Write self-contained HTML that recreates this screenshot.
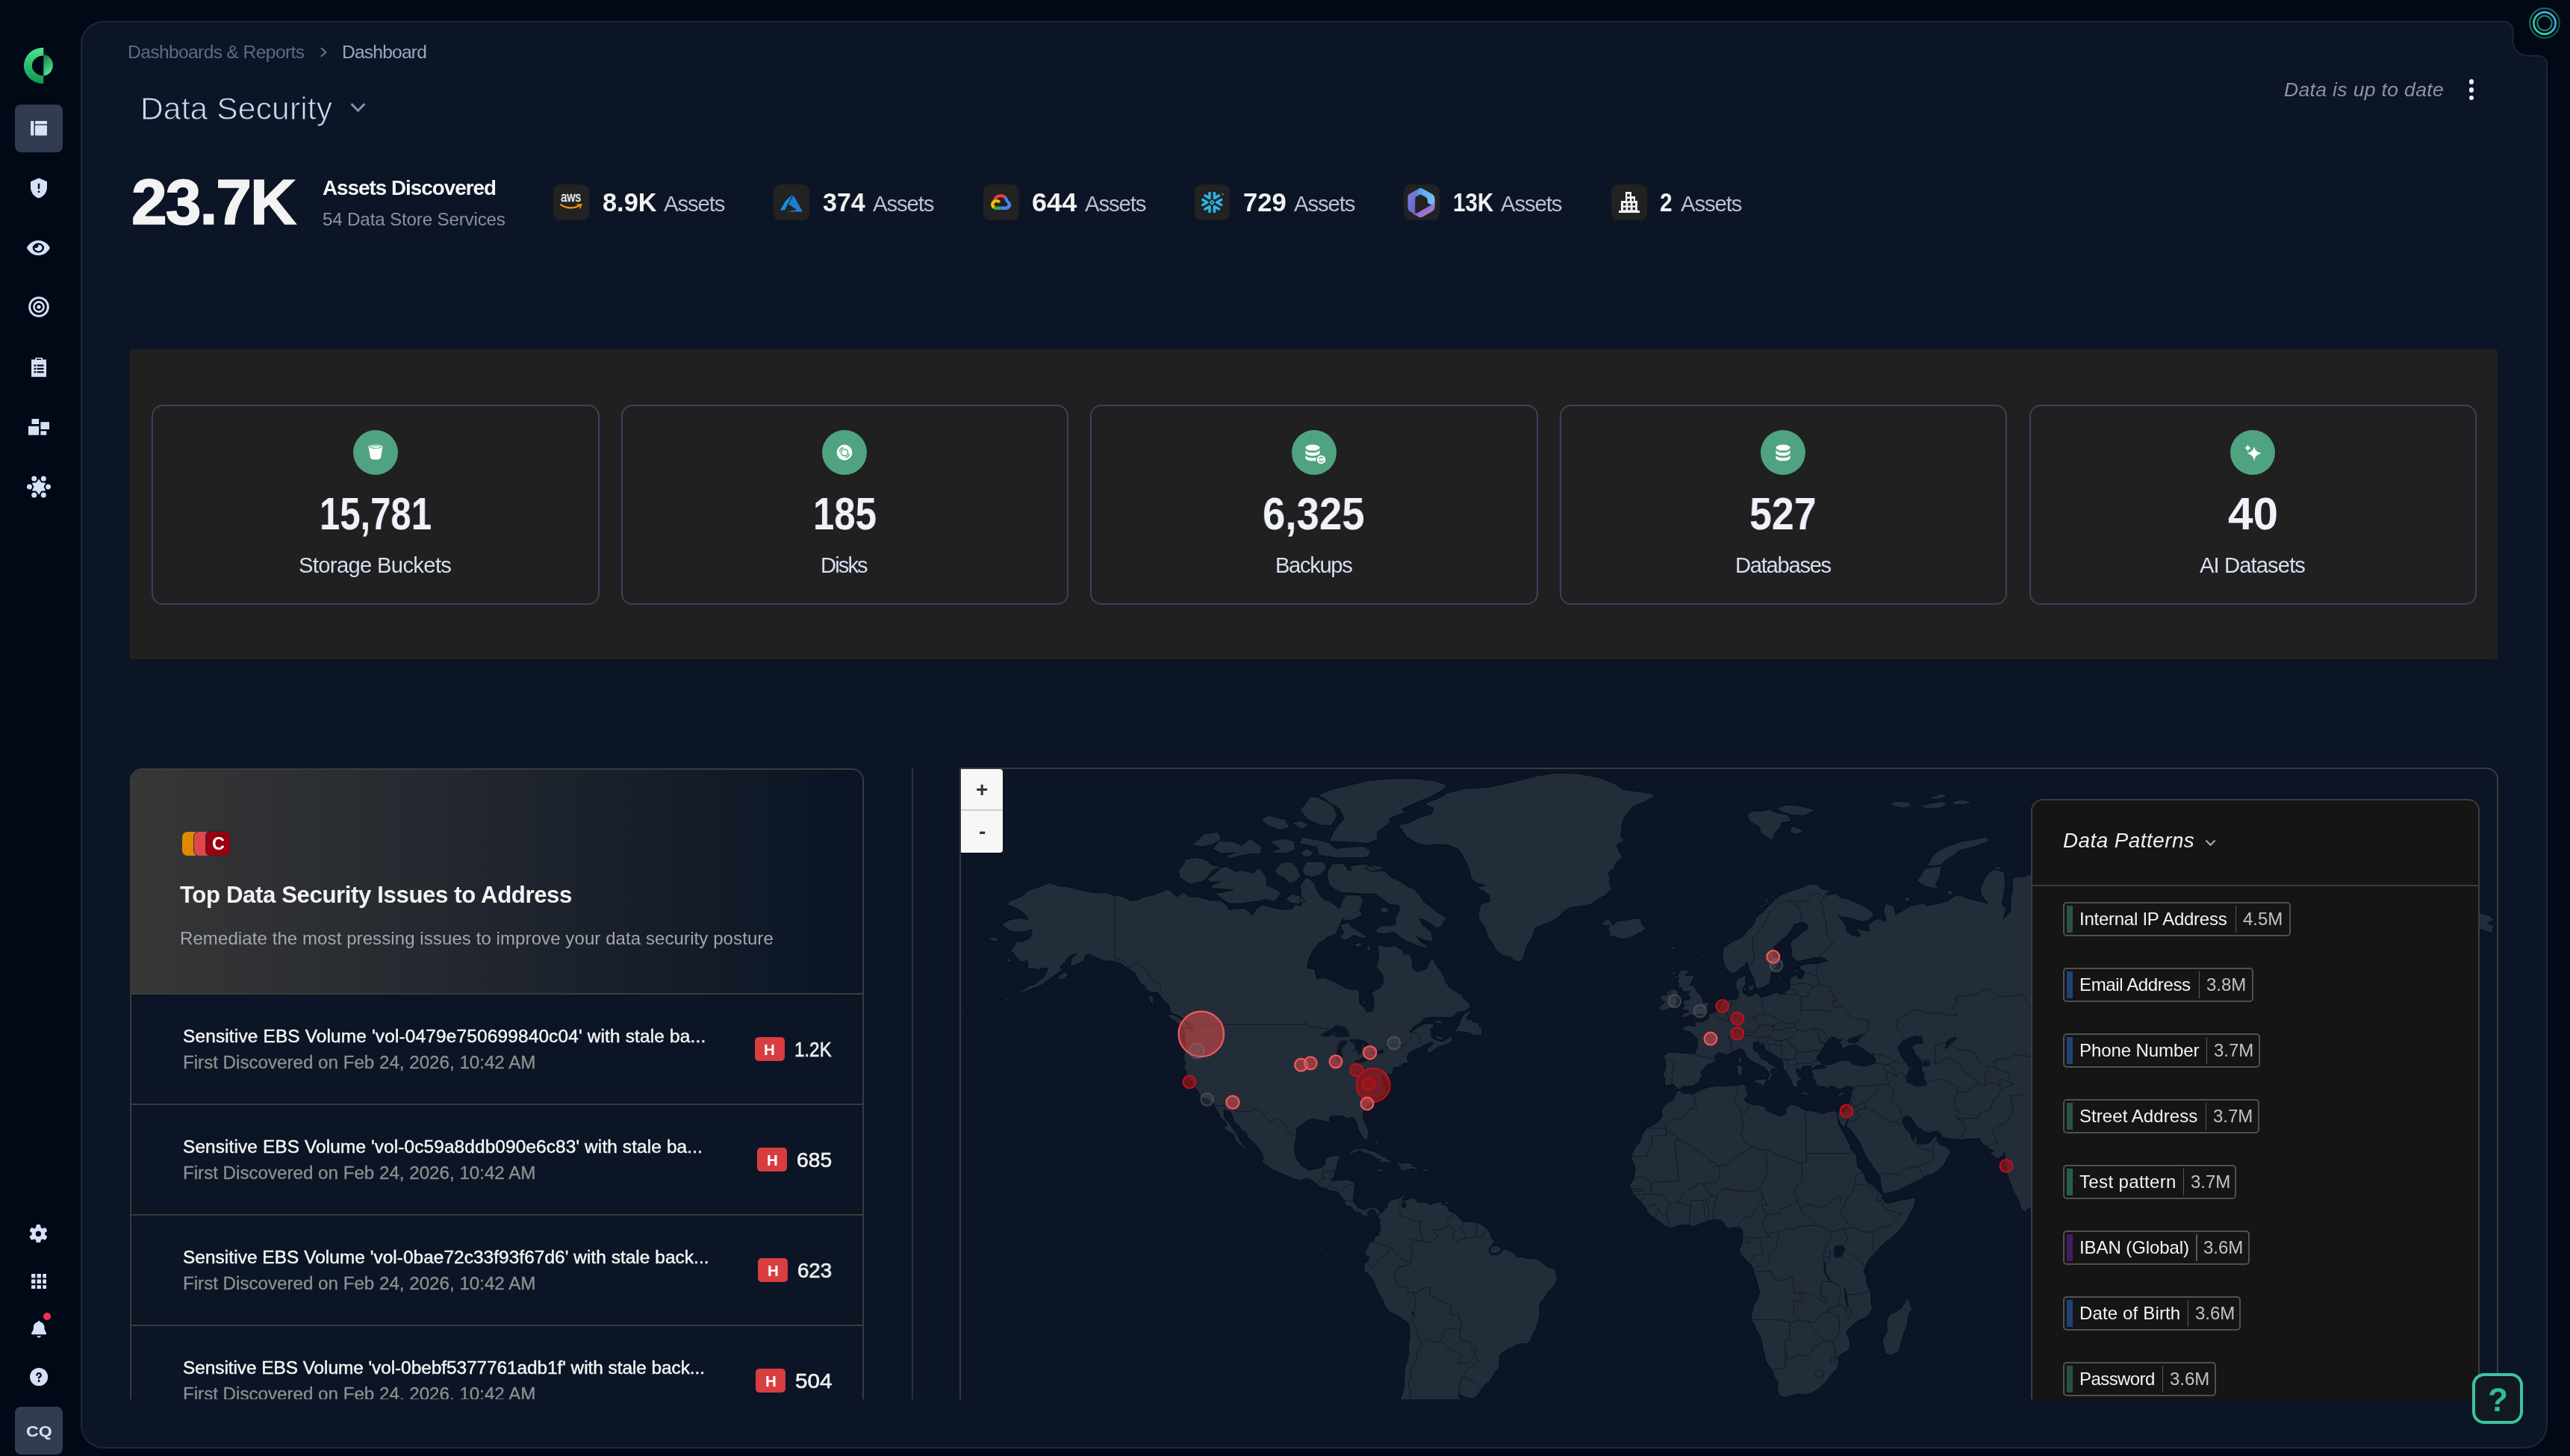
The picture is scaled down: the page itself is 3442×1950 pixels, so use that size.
<!DOCTYPE html>
<html lang="en"><head><meta charset="utf-8"><title>Data Security - Dashboard</title>
<style>
html,body{margin:0;padding:0;}
body{width:3442px;height:1950px;overflow:hidden;background:#010917;position:relative;font-family:"Liberation Sans",Arial,sans-serif;}
.b{position:absolute;box-sizing:border-box;display:block;}
.t{position:absolute;white-space:nowrap;line-height:1;will-change:transform;}
</style></head><body>
<svg class="b" style="left:0;top:0" width="3442" height="1950" viewBox="0 0 3442 1950"><path d="M139,29 H3353.5 A12,12 0 0 1 3365.5,41 V54.7 A20,20 0 0 0 3385.5,74.7 H3399 A12,12 0 0 1 3411,86.7 V1909 A30,30 0 0 1 3381,1939 H139 A30,30 0 0 1 109,1909 V59 A30,30 0 0 1 139,29 Z" fill="#0b1525" stroke="#1e2737" stroke-width="2"/></svg>
<svg class="b" style="left:30px;top:62px" width="44" height="52" viewBox="0 0 44 52">
<defs><linearGradient id="lg1" x1="0" y1="0" x2="0" y2="1"><stop offset="0" stop-color="#4ce38d"/><stop offset="1" stop-color="#0e984e"/></linearGradient>
<linearGradient id="lg2" x1="0.2" y1="0" x2="0.6" y2="1"><stop offset="0" stop-color="#0d8545"/><stop offset="1" stop-color="#58ec98"/></linearGradient></defs>
<path d="M28.3,1.7 A26.4,24.2 0 0 0 28.3,50.1 L28.3,39.3 A15.4,13.4 0 0 1 28.3,12.5 Z" fill="url(#lg1)"/>
<path d="M28.3,11.1 A13.7,14.3 0 0 1 28.3,39.6 Z" fill="url(#lg2)"/></svg>
<div class="b" style="left:20.0px;top:140.0px;width:64.0px;height:64.0px;background:#313b52;border-radius:8px;"></div>
<svg class="b" style="left:41.0px;top:161.9px;" width="22.2" height="19.8" viewBox="0 0 22.2 19.8"><g fill="#d6e0f6"><rect x="0" y="0" width="4.4" height="19.6" rx="1"/><rect x="6" y="0" width="16" height="4.2" rx="1"/><rect x="6" y="5.8" width="16" height="13.8" rx="1"/></g></svg>
<svg class="b" style="left:41.0px;top:238.3px;" width="22.0" height="27.8" viewBox="3 1 18 22"><path fill="#d6e0f6" d="M12 1 3 5v6c0 5.55 3.84 10.74 9 12 5.16-1.26 9-6.45 9-12V5M11 7h2v6h-2m0 2h2v2h-2"/></svg>
<svg class="b" style="left:36.4px;top:322.2px" width="30.8" height="20" viewBox="0 32 576 448" preserveAspectRatio="none"><path fill="#d6e0f6" d="M288 32c-80.8 0-145.5 36.8-192.6 80.6-46.8 43.5-78.1 95.4-93 131.1-3.3 7.9-3.3 16.7 0 24.6 14.9 35.7 46.2 87.7 93 131.1C142.5 443.1 207.2 480 288 480s145.5-36.8 192.6-80.6c46.8-43.5 78.1-95.4 93-131.1 3.3-7.9 3.3-16.7 0-24.6-14.9-35.7-46.2-87.7-93-131.1C433.5 68.9 368.8 32 288 32M144 256a144 144 0 1 1 288 0 144 144 0 1 1-288 0m144-64c0 35.3-28.7 64-64 64-11.5 0-22.3-3-31.7-8.4-1 10.9-.1 22.1 2.9 33.2 13.7 51.2 66.4 81.6 117.6 67.9s81.6-66.4 67.9-117.6c-12.2-45.7-55.5-74.8-101.1-70.8 5.3 9.3 8.4 20.1 8.4 31.7"/></svg>
<svg class="b" style="left:38.0px;top:397.4px;" width="28.0" height="28.0" viewBox="0 0 28 28"><circle cx="14" cy="14" r="12.3" fill="none" stroke="#d6e0f6" stroke-width="3"/><circle cx="14" cy="14" r="6.6" fill="none" stroke="#d6e0f6" stroke-width="2.6"/><circle cx="14" cy="14" r="2.6" fill="#d6e0f6"/></svg>
<svg class="b" style="left:42.0px;top:479.0px;" width="20.2" height="25.8" viewBox="0 0 20.2 25.8"><path fill="#d6e0f6" d="M0,2.6 H5.2 V0.9 Q5.2,0 6.1,0 H14.1 Q15,0 15,0.9 V2.6 H20.2 V25.8 H0 Z M7,1.4 V2.9 H13.2 V1.4 Z"/><g fill="#010917"><rect x="3.6" y="9.4" width="2.6" height="2.2"/><rect x="7.6" y="9.4" width="9" height="2.2"/><rect x="3.6" y="13.8" width="2.6" height="2.2"/><rect x="7.6" y="13.8" width="9" height="2.2"/><rect x="3.6" y="18.2" width="2.6" height="2.2"/><rect x="7.6" y="18.2" width="9" height="2.2"/></g></svg>
<svg class="b" style="left:37.8px;top:561.2px;" width="28.4" height="21.8" viewBox="37.8 561.2 28.4 21.8"><g fill="#d6e0f6"><rect x="42.3" y="561.2" width="9.6" height="7"/><rect x="54.2" y="565.4" width="11.9" height="9.8"/><rect x="37.8" y="571" width="14.1" height="11.9"/><rect x="54.2" y="577.5" width="7.9" height="5.4"/></g></svg>
<svg class="b" style="left:35.9px;top:636.3px;" width="32.0" height="32.0" viewBox="0 0 32 32"><g fill="#d6e0f6"><polygon points="16.00,5.40 12.70,10.28 6.82,10.70 9.40,16.00 6.82,21.30 12.70,21.72 16.00,26.60 19.30,21.72 25.18,21.30 22.60,16.00 25.18,10.70 19.30,10.28"/><circle cx="28.60" cy="16.00" r="3.5"/><circle cx="22.30" cy="5.09" r="3.5"/><circle cx="9.70" cy="5.09" r="3.5"/><circle cx="3.40" cy="16.00" r="3.5"/><circle cx="9.70" cy="26.91" r="3.5"/><circle cx="22.30" cy="26.91" r="3.5"/></g></svg>
<svg class="b" style="left:39.4px;top:1639.5px" width="24.8" height="24.8" viewBox="-4 -16 520 544"><path fill="#d6e0f6" d="M195.1 9.5c3-14.8 16.1-25.5 31.3-25.5h59.8c15.2 0 28.3 10.7 31.3 25.5l14.5 70c14.1 6 27.3 13.7 39.3 22.8l67.8-22.5c14.4-4.8 30.2 1.2 37.8 14.4l29.9 51.8c7.6 13.2 4.9 29.8-6.5 39.9L447 233.3c.9 7.4 1.3 15 1.3 22.7s-.5 15.3-1.3 22.7l53.4 47.5c11.4 10.1 14 26.8 6.5 39.9L477 417.9c-7.6 13.1-23.4 19.2-37.8 14.4l-67.8-22.5c-12.1 9.1-25.3 16.7-39.3 22.8l-14.4 69.9c-3.1 14.9-16.2 25.5-31.3 25.5h-59.8c-15.2 0-28.3-10.7-31.3-25.5l-14.4-69.9c-14.1-6-27.2-13.7-39.3-22.8l-68.1 22.5c-14.4 4.8-30.2-1.2-37.8-14.4L5.8 366.1c-7.6-13.2-4.9-29.8 6.5-39.9l53.4-47.5c-.9-7.4-1.3-15-1.3-22.7s.5-15.3 1.3-22.7l-53.4-47.5C.9 175.7-1.7 159 5.8 145.9l29.9-51.8c7.6-13.2 23.4-19.2 37.8-14.4l67.8 22.5c12.1-9.1 25.3-16.7 39.3-22.8zM256.3 336a80 80 0 1 0-.6-160 80 80 0 1 0 .6 160"/></svg>
<svg class="b" style="left:41.6px;top:1705.7px;" width="20.6" height="20.6" viewBox="0 0 20.6 20.6"><g fill="#d6e0f6"><rect x="0.0" y="0.0" width="5.4" height="5.4" rx="0.6"/><rect x="0.0" y="7.6" width="5.4" height="5.4" rx="0.6"/><rect x="0.0" y="15.2" width="5.4" height="5.4" rx="0.6"/><rect x="7.6" y="0.0" width="5.4" height="5.4" rx="0.6"/><rect x="7.6" y="7.6" width="5.4" height="5.4" rx="0.6"/><rect x="7.6" y="15.2" width="5.4" height="5.4" rx="0.6"/><rect x="15.2" y="0.0" width="5.4" height="5.4" rx="0.6"/><rect x="15.2" y="7.6" width="5.4" height="5.4" rx="0.6"/><rect x="15.2" y="15.2" width="5.4" height="5.4" rx="0.6"/></g></svg>
<svg class="b" style="left:41.6px;top:1769.2px" width="20.4" height="22.4" viewBox="0 0 448 512" preserveAspectRatio="none"><path fill="#d6e0f6" d="M224 0c-17.7 0-32 14.3-32 32v3.2C119 50 64 114.6 64 192v21.7c0 48.1-16.4 94.8-46.4 132.4l-9.8 12.2C2.7 364.6 0 372.4 0 380.5 0 400.1 15.9 416 35.5 416h376.9c19.6 0 35.5-15.9 35.5-35.5 0-8.1-2.7-15.9-7.8-22.2l-9.8-12.2c-29.9-37.6-46.3-84.3-46.3-132.4V192c0-77.4-55-142-128-156.8V32c0-17.7-14.3-32-32-32m-62 464c7.1 27.6 32.2 48 62 48s54.9-20.4 62-48z"/></svg>
<div class="b" style="left:57.5px;top:1757.7px;width:10.6px;height:10.6px;background:#f1304f;border-radius:6px;"></div>
<svg class="b" style="left:39.7px;top:1831.7px" width="24.2" height="24.2" viewBox="0 0 512 512"><path fill="#d6e0f6" d="M256 512a256 256 0 1 0 0-512 256 256 0 1 0 0 512m0-336c-17.7 0-32 14.3-32 32 0 13.3-10.7 24-24 24s-24-10.7-24-24c0-44.2 35.8-80 80-80s80 35.8 80 80c0 47.2-36 67.2-56 74.5v3.8c0 13.3-10.7 24-24 24s-24-10.7-24-24v-8.1c0-20.5 14.8-35.2 30.1-40.2 6.4-2.1 13.2-5.5 18.2-10.3 4.3-4.2 7.7-10 7.7-19.6 0-17.7-14.3-32-32-32zm-32 192a32 32 0 1 1 64 0 32 32 0 1 1-64 0"/></svg>
<div class="b" style="left:20.0px;top:1884.0px;width:64.0px;height:63.5px;background:#313b52;border-radius:8px;"></div>
<svg class="b" style="left:3385px;top:8px" width="46" height="46" viewBox="0 0 46 46">
<defs><linearGradient id="rg1" x1="0" y1="1" x2="1" y2="0"><stop offset="0" stop-color="#2bd491"/><stop offset="1" stop-color="#4aa3ee"/></linearGradient>
<linearGradient id="rg2" x1="0" y1="0" x2="1" y2="1"><stop offset="0" stop-color="#2a8f80"/><stop offset="1" stop-color="#1b5a4e"/></linearGradient></defs>
<circle cx="23" cy="23" r="19.8" fill="none" stroke="url(#rg2)" stroke-width="2.2" opacity="0.8"/>
<circle cx="23" cy="23" r="14.6" fill="none" stroke="url(#rg1)" stroke-width="2.7"/>
<circle cx="23" cy="23" r="9.8" fill="none" stroke="#2a9a78" stroke-width="1.7"/></svg>
<svg class="b" style="left:427.5px;top:63.2px;" width="10.5" height="14.0" viewBox="0 0 10.5 14"><polyline points="2,1.2 8.4,7 2,12.8" fill="none" stroke="#6d7890" stroke-width="2"/></svg>
<svg class="b" style="left:469.0px;top:136.5px;" width="21.0" height="14.5" viewBox="0 0 21 14.5"><polyline points="1.6,2 10.5,11.2 19.4,2" fill="none" stroke="#8592aa" stroke-width="3"/></svg>
<div class="b" style="left:3306.5px;top:106.4px;width:6.8px;height:6.8px;background:#f0f0f2;border-radius:4px;"></div>
<div class="b" style="left:3306.5px;top:117.0px;width:6.8px;height:6.8px;background:#f0f0f2;border-radius:4px;"></div>
<div class="b" style="left:3306.5px;top:127.6px;width:6.8px;height:6.8px;background:#f0f0f2;border-radius:4px;"></div>
<div class="b" style="left:741.0px;top:247.2px;width:47.6px;height:47.6px;background:#222222;border-radius:9px;"></div>
<svg class="b" style="left:749.8px;top:272.5px;" width="30.0" height="9.0" viewBox="0 0 30 9"><path d="M1,1.2 Q13,9 26,2.6" fill="none" stroke="#f79400" stroke-width="2.2" stroke-linecap="round"/><path d="M22.5,1 L28.6,0.8 L26.6,6.2" fill="none" stroke="#f79400" stroke-width="1.6"/></svg>
<div class="b" style="left:1036.2px;top:247.2px;width:47.6px;height:47.6px;background:#222222;border-radius:9px;"></div>
<svg class="b" style="left:1045.0px;top:259.5px;" width="30.0" height="24.0" viewBox="0 0 30 24"><path d="M16.6,0 L6.8,9.4 L0,21.4 H6 Z" fill="#1690df"/><path d="M17.6,1.6 L11,13.6 L22.4,21 L8,23.6 H30 Z" fill="#1c7fd0"/></svg>
<div class="b" style="left:1317.0px;top:247.2px;width:47.6px;height:47.6px;background:#222222;border-radius:9px;"></div>
<svg class="b" style="left:1325.3px;top:259.0px;" width="31.0" height="25.0" viewBox="0 0 31 25"><path d="M19.6,6.8 L22.6,3.9 C18.6,0.2 12.4,0.1 8.3,3.7 C6.5,5.3 5.3,7.3 4.8,9.5 L8.8,9 C10.6,5.3 15.9,4 19.6,6.8 Z" fill="#ea4335"/>
<path d="M25.4,9.5 C24.9,7.4 23.9,5.5 22.6,3.9 L19.6,6.8 C20.9,7.9 21.6,9.5 21.6,11.2 V11.8 C25.4,11.8 25.4,17.6 21.6,17.6 H15.5 V22 H21.6 C29.6,22 32,13.6 25.4,9.5 Z" fill="#4285f4"/>
<path d="M9.4,22 H15.5 V17.6 H9.4 C9,17.6 8.6,17.5 8.2,17.3 L5,20.5 C6.3,21.5 7.8,22 9.4,22 Z" fill="#34a853"/>
<path d="M9.4,7.9 C2.4,8 -0.6,16.6 5,20.5 L8.2,17.3 C5.4,16 6.4,11.9 9.4,11.9 C10.6,11.9 11.6,12.6 12.1,13.6 L15.3,10.4 C13.9,8.8 11.7,7.9 9.4,7.9 Z" fill="#fbbc05"/></svg>
<div class="b" style="left:1599.9px;top:247.2px;width:47.6px;height:47.6px;background:#222222;border-radius:9px;"></div>
<svg class="b" style="left:1608.7px;top:256.0px;" width="30.0" height="30.0" viewBox="0 0 24 24"><path fill="#29b5e8" d="M24 3.459c0 .646-.418 1.18-1.141 1.18s-1.142-.534-1.142-1.18c0-.647.419-1.18 1.142-1.18S24 2.812 24 3.459m-.228 0c0-.533-.38-.951-.913-.951s-.913.38-.913.95c0 .533.38.952.913.952.57 0 .913-.419.913-.951m-1.37-.533h.495c.266 0 .456.152.456.38 0 .153-.076.229-.19.305l.19.266v.038h-.266l-.19-.266h-.229v.266h-.266zm.495.228h-.229v.267h.229c.114 0 .152-.038.152-.114.038-.077-.038-.153-.152-.153M7.602 12.4a2 2 0 0 0 .076-.456c0-.114-.038-.228-.038-.342-.114-.343-.304-.647-.646-.838l-4.87-2.777c-.685-.38-1.56-.152-1.94.533-.381.685-.153 1.56.532 1.94l2.701 1.56-2.701 1.56c-.685.38-.913 1.256-.533 1.94.38.685 1.256.914 1.94.533l4.832-2.777c.343-.267.571-.533.647-.876m1.332 2.626c-.266-.038-.57.038-.837.19l-4.832 2.777c-.685.38-.913 1.256-.532 1.94.38.686 1.255.914 1.94.533l2.701-1.56v3.12c0 .8.647 1.408 1.446 1.408s1.407-.647 1.407-1.408v-5.592c0-.761-.57-1.37-1.293-1.408m4.946-6.088c.266.038.57-.038.837-.19l4.832-2.777c.685-.38.913-1.256.532-1.94-.38-.686-1.255-.914-1.94-.533l-2.701 1.56V1.975c0-.799-.647-1.408-1.446-1.408s-1.446.609-1.446 1.408V7.53c0 .76.609 1.37 1.332 1.407zM3.265 5.97l4.832 2.777c.266.152.533.19.837.19.723-.038 1.331-.684 1.331-1.407V1.975c0-.799-.646-1.408-1.407-1.408-.799 0-1.446.647-1.446 1.408v3.12l-2.701-1.56c-.685-.38-1.56-.152-1.94.533-.419.646-.19 1.521.494 1.902m9.093 6.011a.4.4 0 0 0-.114-.266l-.57-.571a.35.35 0 0 0-.267-.114.4.4 0 0 0-.266.114l-.571.57a.4.4 0 0 0-.114.267c0 .076.038.19.114.267l.57.57a.35.35 0 0 0 .267.114.4.4 0 0 0 .266-.114l.571-.57a.4.4 0 0 0 .114-.267m1.598.533L11.94 14.53c-.039.038-.153.114-.229.114h-.608a.4.4 0 0 1-.267-.114L8.82 12.514a.4.4 0 0 1-.076-.229v-.608c0-.076.038-.19.114-.267l2.016-2.016a.4.4 0 0 1 .267-.114h.608a.4.4 0 0 1 .267.114l2.016 2.016a.35.35 0 0 1 .114.267v.608c-.076.077-.114.19-.19.229m5.593 5.44-4.832-2.777c-.266-.152-.57-.19-.837-.152-.723.038-1.332.684-1.332 1.408v5.554c0 .8.647 1.408 1.408 1.408.799 0 1.446-.647 1.446-1.408v-3.12l2.7 1.56c.686.38 1.561.152 1.941-.533.419-.646.19-1.521-.494-1.94m2.549-7.533-2.701 1.56 2.7 1.56c.686.38.914 1.256.533 1.94-.38.685-1.255.913-1.94.533l-4.832-2.778a1.64 1.64 0 0 1-.647-.798c-.037-.153-.076-.305-.076-.457 0-.114.039-.228.039-.342.114-.343.342-.647.646-.837l4.832-2.778c.685-.38 1.56-.152 1.94.533.457.609.19 1.484-.494 1.864"/></svg>
<div class="b" style="left:1880.0px;top:247.2px;width:47.6px;height:47.6px;background:#222222;border-radius:9px;"></div>
<svg class="b" style="left:1885.3px;top:250.8px;" width="37.0" height="40.6" viewBox="0 0 31 34"><defs><linearGradient id="m1" x1="0" y1="0" x2="1" y2="1"><stop offset="0" stop-color="#8a7bd8"/><stop offset="1" stop-color="#4b63c7"/></linearGradient>
<linearGradient id="m2" x1="0" y1="0" x2="1" y2="0"><stop offset="0" stop-color="#4a9be8"/><stop offset="1" stop-color="#7cc3f2"/></linearGradient>
<linearGradient id="m3" x1="0" y1="0" x2="1" y2="1"><stop offset="0" stop-color="#6b5fc8"/><stop offset="1" stop-color="#b37fd6"/></linearGradient></defs>
<path d="M13,1.2 L3,7 C1.2,8 0.4,9.6 0.4,11.6 V22.4 C0.4,24.4 1.4,26 3,27 L8.6,30.2 V13.6 C8.6,11.8 9.4,10.6 10.8,9.8 L19,5 L16.4,1.6 C15.4,0.8 14,0.6 13,1.2 Z" fill="url(#m1)"/>
<path d="M12.6,1.4 C14,0.6 15.6,0.6 17,1.4 L27.6,7.4 C29.6,8.6 30.6,10.4 30.6,12.4 V21.8 L22.6,17.4 V14.8 C22.6,13.2 21.8,12 20.6,11.2 L15.6,8.4 C13.8,7.4 11.8,7.4 10.2,8.6 Z" fill="url(#m2)"/>
<path d="M30.6,12.6 V22 C30.6,24.2 29.4,26 27.6,27 L17,33 C15.6,33.8 13.8,33.8 12.4,33 L5,28.6 C8,29.8 10.4,28.8 12,28 L27.4,19.2 C29.6,18 30.6,15.4 30.6,12.6 Z" fill="url(#m3)"/></svg>
<div class="b" style="left:2158.0px;top:247.2px;width:47.6px;height:47.6px;background:#222222;border-radius:9px;"></div>
<svg class="b" style="left:2165.8px;top:255.0px;" width="32.0" height="32.0" viewBox="0 0 32 32"><path fill="#f1f1f1" d="M11,2 H19 V8 H24 V14 H27 V27 H30 V30 H2 V27 H5 V14 H11 Z"/>
<g fill="#222"><rect x="13.2" y="5" width="3.6" height="3.4"/><rect x="13.2" y="11" width="3.6" height="3.4"/><rect x="19.6" y="11" width="2.4" height="3.4"/><rect x="8" y="17" width="3.4" height="3.4"/><rect x="14.3" y="17" width="3.4" height="3.4"/><rect x="20.6" y="17" width="3.4" height="3.4"/><rect x="8" y="22.8" width="3.4" height="3.4"/><rect x="14.3" y="22.8" width="3.4" height="3.4"/><rect x="20.6" y="22.8" width="3.4" height="3.4"/></g></svg>
<div class="b" style="left:174.0px;top:468.0px;width:3171.0px;height:414.5px;background:#202020;border-radius:3px;"></div>
<div class="b" style="left:203.0px;top:542.0px;width:599.5px;height:267.5px;border-radius:15px;border:2px solid #38435c;"></div>
<div class="b" style="left:472.8px;top:576.0px;width:60.0px;height:60.0px;background:#4fa381;border-radius:30px;"></div>
<svg class="b" style="left:492.8px;top:595.0px;" width="20.0" height="21.0" viewBox="0 0 20 21"><path fill="#ffffff" d="M0.6,3.4 C0.6,1.6 4.8,0.6 10,0.6 C15.2,0.6 19.4,1.6 19.4,3.4 L17,18 C16.6,19.8 13.6,20.6 10,20.6 C6.4,20.6 3.4,19.8 3,18 Z"/><ellipse cx="10" cy="3.5" rx="7.6" ry="1.7" fill="none" stroke="#4fa381" stroke-width="1.1"/></svg>
<div class="b" style="left:831.5px;top:542.0px;width:599.5px;height:267.5px;border-radius:15px;border:2px solid #38435c;"></div>
<div class="b" style="left:1101.2px;top:576.0px;width:60.0px;height:60.0px;background:#4fa381;border-radius:30px;"></div>
<svg class="b" style="left:1120.2px;top:595.0px;" width="22.0" height="22.0" viewBox="0 0 22 22"><circle cx="11" cy="11" r="10.4" fill="#ffffff"/><circle cx="11" cy="11" r="4.6" fill="none" stroke="#4fa381" stroke-width="1.5"/><path d="M4.2,9.4 A7,7 0 0 1 9.4,4.2" fill="none" stroke="#4fa381" stroke-width="1.4"/><path d="M17.8,12.6 A7,7 0 0 1 12.6,17.8" fill="none" stroke="#4fa381" stroke-width="1.4"/></svg>
<div class="b" style="left:1460.0px;top:542.0px;width:599.5px;height:267.5px;border-radius:15px;border:2px solid #38435c;"></div>
<div class="b" style="left:1729.8px;top:576.0px;width:60.0px;height:60.0px;background:#4fa381;border-radius:30px;"></div>
<svg class="b" style="left:1746.8px;top:594.5px;" width="22.0" height="23.0" viewBox="0 0 22 23"><g fill="#ffffff"><ellipse cx="11" cy="4.6" rx="9.6" ry="4"/><path d="M1.4,7.6 C3,12.6 19,12.6 20.6,7.6 V11.8 C19,16.8 3,16.8 1.4,11.8 Z"/><path d="M1.4,14.4 C3,19.4 19,19.4 20.6,14.4 V18.4 C19,23.6 3,23.6 1.4,18.4 Z"/></g></svg>
<svg class="b" style="left:1761.8px;top:608.0px;" width="15.0" height="15.0" viewBox="0 0 15 15"><circle cx="7.5" cy="7.5" r="7.2" fill="#4fa381"/><circle cx="7.5" cy="7.5" r="5.8" fill="#ffffff"/><path d="M4.6,6.6 A3.2,3.2 0 0 1 10.2,5.8 M10.4,8.4 A3.2,3.2 0 0 1 4.8,9.2" fill="none" stroke="#4fa381" stroke-width="1.3"/></svg>
<div class="b" style="left:2088.5px;top:542.0px;width:599.5px;height:267.5px;border-radius:15px;border:2px solid #38435c;"></div>
<div class="b" style="left:2358.2px;top:576.0px;width:60.0px;height:60.0px;background:#4fa381;border-radius:30px;"></div>
<svg class="b" style="left:2377.2px;top:594.5px;" width="22.0" height="23.0" viewBox="0 0 22 23"><g fill="#ffffff"><ellipse cx="11" cy="4.6" rx="9.6" ry="4"/><path d="M1.4,7.6 C3,12.6 19,12.6 20.6,7.6 V11.8 C19,16.8 3,16.8 1.4,11.8 Z"/><path d="M1.4,14.4 C3,19.4 19,19.4 20.6,14.4 V18.4 C19,23.6 3,23.6 1.4,18.4 Z"/></g></svg>
<div class="b" style="left:2717.5px;top:542.0px;width:599.5px;height:267.5px;border-radius:15px;border:2px solid #38435c;"></div>
<div class="b" style="left:2987.2px;top:576.0px;width:60.0px;height:60.0px;background:#4fa381;border-radius:30px;"></div>
<svg class="b" style="left:3003.2px;top:592.0px;" width="28.0" height="28.0" viewBox="0 0 28 28"><g fill="#ffffff"><path d="M16,6 Q17,13 25.5,15 Q17,17 16,25.5 Q15,17 6.5,15 Q15,13 16,6 Z"/><path d="M7.5,3 Q8,7 12,8 Q8,9 7.5,13 Q7,9 3,8 Q7,7 7.5,3 Z"/></g></svg>
<div class="b" style="left:174px;top:1028.5px;width:983px;height:846px;border:2px solid #3b3b3b;border-bottom:none;border-radius:16px 16px 0 0;overflow:hidden;"><div class="b" style="left:0;top:0;width:979px;height:301px;background:linear-gradient(90deg,#373737 0%,#0b1525 97%);"></div></div>
<div class="b" style="left:176.0px;top:1330.0px;width:979.0px;height:2.0px;background:#3b3b3b;"></div>
<div class="b" style="left:176.0px;top:1478.0px;width:979.0px;height:2.0px;background:#3b3b3b;"></div>
<div class="b" style="left:176.0px;top:1626.0px;width:979.0px;height:2.0px;background:#3b3b3b;"></div>
<div class="b" style="left:176.0px;top:1774.0px;width:979.0px;height:2.0px;background:#3b3b3b;"></div>
<div class="b" style="left:1220.5px;top:1028.0px;width:2.0px;height:846.0px;background:#2b3038;"></div>
<div class="b" style="left:244.0px;top:1114.0px;width:31.5px;height:31.5px;background:#e08a00;border-radius:7px;"></div>
<div class="b" style="left:258.6px;top:1112.6px;width:34.0px;height:34.4px;background:#34363b;border-radius:8px;"></div>
<div class="b" style="left:260.0px;top:1114.0px;width:31.5px;height:31.5px;background:#e0474a;border-radius:7px;"></div>
<div class="b" style="left:274.6px;top:1112.4px;width:35.0px;height:35.0px;background:#2b2d33;border-radius:8px;"></div>
<div class="b" style="left:276.4px;top:1114.0px;width:31.5px;height:31.5px;background:#98000f;border-radius:7px;"></div>
<div class="b" style="left:1011.0px;top:1389.0px;width:39.5px;height:31.6px;background:#d83d40;border-radius:5px;"></div>
<div class="b" style="left:1014.3px;top:1537.0px;width:39.5px;height:31.6px;background:#d83d40;border-radius:5px;"></div>
<div class="b" style="left:1015.2px;top:1685.0px;width:39.5px;height:31.6px;background:#d83d40;border-radius:5px;"></div>
<div class="b" style="left:1012.2px;top:1833.0px;width:39.5px;height:31.6px;background:#d83d40;border-radius:5px;"></div>
<div class="b" style="left:170.0px;top:1874.0px;width:3180.0px;height:62.0px;background:#0b1525;z-index:5;"></div>
<div class="b" style="left:1285px;top:1027.5px;width:2061px;height:847px;border:2px solid #3b3b3b;border-bottom:none;border-radius:0 16px 0 0;"></div>
<svg class="b" style="left:1287px;top:1029.5px" width="2058" height="844.5" viewBox="0 0 2058 844.5">
<path fill="#232d39" stroke="#07101e" stroke-width="1.1" stroke-linejoin="round" d="M54.6,208.0 63.5,202.4 77.5,199.2 89.8,201.5 85.8,195.0 78.6,189.3 69.7,184.5 61.9,182.1 65.2,176.8 80.3,170.9 89.2,162.9 105.4,157.4 118.8,152.2 130.5,156.3 144.4,157.9 155.6,160.9 169.5,163.9 183.5,165.9 194.7,164.9 205.8,169.4 217.0,170.4 228.1,176.3 236.5,175.8 244.9,170.9 256.0,168.9 267.2,164.9 275.6,160.9 281.1,162.9 289.5,170.9 297.3,164.4 306.3,170.9 317.4,170.9 334.2,175.8 348.1,176.3 356.5,182.6 359.3,188.3 378.8,185.9 387.2,191.2 390.0,195.9 395.5,187.4 403.9,181.6 417.9,185.5 429.0,187.9 443.0,187.4 448.0,180.7 455.8,183.1 454.1,175.8 455.8,165.9 454.1,155.8 461.4,146.0 465.3,145.5 473.7,152.8 476.4,160.9 480.9,168.9 487.6,175.8 494.3,176.8 501.6,182.6 507.1,186.4 509.9,177.7 515.5,167.9 533.9,168.9 538.9,173.8 537.3,181.6 533.9,189.3 538.4,195.0 526.7,201.5 512.7,203.4 511.6,199.6 507.1,210.7 501.6,221.5 490.4,225.1 486.5,229.5 479.2,233.0 470.9,244.2 465.3,256.9 464.2,266.8 473.7,267.6 476.4,281.3 485.9,278.9 501.6,285.3 518.3,294.3 533.4,295.9 533.9,312.4 540.6,319.9 543.4,325.1 551.8,323.6 552.9,316.1 552.3,304.8 548.4,299.8 561.3,292.4 565.7,285.3 565.2,277.3 560.1,269.2 555.7,265.1 558.5,256.9 559.6,248.5 557.4,237.3 560.1,235.2 571.3,238.2 580.8,236.5 590.8,241.6 593.6,247.6 602.0,248.5 604.8,256.9 604.2,265.1 610.9,271.7 624.3,266.8 627.1,257.7 632.7,253.5 635.5,261.0 642.2,269.2 646.6,277.3 649.4,285.3 655.0,293.2 663.4,297.8 671.2,302.5 673.4,307.0 681.2,313.9 681.8,319.9 675.7,324.0 666.2,325.4 657.8,332.4 646.6,332.8 632.7,332.4 621.5,333.2 615.9,339.7 607.6,344.7 600.9,352.6 604.2,351.9 610.4,346.2 621.5,340.8 633.2,341.1 633.8,344.7 628.2,349.0 631.0,351.1 629.9,357.5 633.8,361.4 641.1,364.5 647.2,363.8 650.5,361.7 655.0,356.1 658.9,363.1 652.2,368.0 638.3,372.8 629.9,378.9 626.0,380.6 623.2,375.5 629.9,369.3 632.7,368.0 631.0,365.2 624.3,368.7 618.7,370.0 618.7,372.1 610.4,374.8 602.0,378.9 598.1,383.7 597.5,387.1 598.7,391.1 602.0,390.1 602.3,392.4 598.1,393.8 594.2,393.8 590.8,395.1 591.4,396.8 585.3,399.1 579.7,400.1 579.7,401.7 578.6,406.3 574.7,410.6 571.3,407.6 573.5,412.9 572.4,416.7 569.1,422.2 567.4,414.8 565.7,408.9 565.7,416.7 566.8,423.2 568.5,423.8 570.2,430.2 571.3,434.3 565.7,438.1 557.9,442.9 550.7,447.2 546.8,450.3 540.6,455.3 538.4,462.7 538.9,468.2 542.9,476.4 545.9,485.7 545.6,492.3 544.0,495.9 540.1,496.4 536.2,491.1 533.9,486.3 531.1,481.5 530.6,475.5 526.1,468.2 523.3,466.4 516.6,468.8 509.9,464.5 501.6,465.1 496.0,464.8 493.2,467.0 494.9,472.5 489.3,472.5 483.1,470.6 477.6,469.7 469.2,468.8 464.2,470.9 456.9,476.1 450.2,481.5 449.1,491.1 447.4,503.0 446.9,513.0 450.2,522.4 456.4,531.1 462.5,534.8 465.8,537.1 474.8,535.1 480.4,534.5 486.5,530.5 487.6,527.3 488.2,521.2 490.4,519.7 498.8,517.4 506.6,517.2 508.3,520.0 504.9,525.3 504.3,529.9 502.7,536.3 501.0,538.0 500.4,540.9 499.9,546.6 496.5,550.0 500.4,551.2 504.3,550.6 512.7,550.0 518.9,550.0 526.7,553.5 528.6,555.2 527.2,560.9 526.7,566.6 525.6,572.2 525.6,577.9 526.7,581.3 529.5,583.5 533.9,588.0 539.5,590.3 546.2,587.5 551.8,586.1 557.4,588.0 561.0,591.0 557.9,599.3 555.7,595.3 555.1,592.5 551.8,589.7 549.0,589.4 547.3,592.0 544.0,593.4 546.2,597.9 541.2,599.3 536.7,597.0 533.9,593.6 530.0,594.5 527.8,592.5 525.6,592.2 525.6,589.1 520.5,585.8 517.7,585.9 513.8,582.4 513.8,578.4 509.9,573.4 504.9,567.1 502.1,565.7 496.5,565.1 491.5,563.7 487.6,561.4 482.6,560.9 478.1,558.0 470.9,551.8 465.3,548.3 461.4,548.6 454.1,551.5 445.8,548.9 435.2,544.6 425.7,540.3 422.3,538.3 415.1,536.3 410.6,531.9 405.0,527.6 402.8,524.1 405.0,522.4 403.9,517.7 398.9,507.7 391.1,500.0 384.4,493.8 381.6,486.9 375.5,483.3 373.8,479.7 366.5,473.1 363.2,465.8 361.5,459.6 352.6,456.2 352.6,461.5 353.1,467.0 358.7,473.1 363.2,479.1 366.0,483.9 369.9,488.1 371.5,492.3 374.9,498.3 377.1,501.8 380.5,505.4 381.9,507.7 379.4,509.5 377.7,506.5 371.0,501.2 367.1,498.3 366.5,491.1 360.9,486.9 355.4,484.5 350.6,480.0 355.4,477.9 355.9,475.5 352.6,471.2 347.0,467.0 345.3,462.1 342.0,456.5 339.2,451.6 338.1,447.9 331.9,443.8 331.4,442.2 327.5,441.3 320.2,439.4 319.4,435.0 312.4,425.8 311.8,423.5 309.0,420.0 309.0,418.0 306.3,416.7 302.4,410.9 301.8,405.0 298.4,400.7 300.1,393.8 297.9,385.0 300.1,376.9 300.7,361.7 300.1,356.1 296.8,346.2 303.5,347.9 307.9,348.3 309.6,353.3 310.2,349.0 308.5,342.6 305.7,340.4 301.2,337.5 295.7,333.9 289.5,329.5 282.3,327.3 279.5,322.8 278.9,317.6 274.5,312.4 268.3,306.3 265.5,301.7 261.6,298.6 256.0,299.4 249.3,296.3 244.9,289.2 241.0,287.7 237.1,281.3 233.7,274.9 230.4,271.7 223.1,266.8 213.1,260.2 203.6,257.3 189.6,256.9 185.7,254.4 177.9,251.0 172.3,248.5 166.8,249.3 165.1,256.9 158.4,259.4 152.8,262.7 145.0,263.5 147.2,259.4 148.3,252.7 155.6,246.8 150.0,248.5 144.4,252.7 138.9,259.4 133.3,265.1 136.1,268.4 131.6,272.5 124.9,277.3 118.2,282.1 108.7,289.2 99.8,292.4 91.4,295.5 83.1,299.0 73.0,300.5 83.1,295.9 91.4,290.0 97.0,289.2 105.4,282.9 112.1,276.9 114.3,271.7 116.5,267.2 108.2,266.4 105.4,269.2 98.1,267.6 89.2,268.0 89.8,261.0 88.6,256.9 80.3,258.5 74.7,253.5 70.2,246.8 65.8,243.3 71.9,235.6 73.6,231.2 83.1,230.4 91.4,226.8 94.2,222.4 95.3,215.2 85.8,217.9 74.7,218.4 69.7,217.9 63.5,216.1Z M747.6,258.5 738.7,255.2 735.9,251.0 724.8,249.7 719.2,245.1 715.3,239.9 711.9,233.0 706.3,226.0 704.1,220.6 701.9,213.4 696.9,206.1 693.5,199.6 693.0,195.0 694.1,187.4 696.9,180.7 708.0,177.7 708.0,169.9 699.6,162.9 688.5,158.9 702.4,155.8 688.5,151.7 682.9,145.5 681.2,137.1 677.3,126.4 671.8,116.5 666.2,107.6 652.2,101.9 635.5,100.8 621.5,102.5 608.7,98.5 596.4,90.3 588.0,78.4 585.3,74.8 602.0,71.1 613.2,65.0 629.9,60.0 632.7,52.4 619.9,46.6 638.3,39.4 652.2,31.5 674.5,26.1 702.4,24.7 724.8,20.6 747.1,15.1 769.4,9.5 797.3,5.3 825.2,6.0 853.1,10.9 875.4,19.3 886.6,27.4 903.3,29.5 925.6,32.8 928.4,36.8 917.3,43.4 900.5,49.8 892.2,60.0 886.6,68.7 884.9,78.4 883.8,90.3 889.4,95.0 878.2,101.9 882.1,111.0 886.6,118.7 878.2,124.2 875.4,131.8 867.0,139.2 869.8,145.5 868.2,151.7 871.5,160.9 867.0,164.9 861.5,169.9 850.3,175.8 844.7,180.7 830.8,183.5 816.8,185.5 808.5,190.2 800.1,198.7 788.9,205.2 777.8,208.9 769.4,213.4 766.6,220.6 764.9,226.8 759.9,233.0 756.6,239.9 754.9,248.5 752.7,254.4Z M855.9,208.9 864.3,200.6 867.6,200.1 872.6,208.9 879.9,203.4 889.4,202.4 901.6,199.6 911.1,201.0 911.7,207.0 917.0,213.0 911.7,218.8 906.1,220.6 900.5,224.2 892.2,226.8 886.6,227.7 878.2,226.0 874.3,223.7 865.9,224.2 869.8,219.7 867.0,215.2 858.7,214.8 868.2,213.0 868.7,209.8Z M624.9,240.8 613.2,237.3 602.6,233.0 593.6,229.5 586.4,223.3 579.7,218.8 565.7,220.6 557.4,219.7 554.6,216.1 562.9,209.8 576.9,209.8 582.5,207.0 581.4,199.6 585.3,192.1 588.0,187.4 585.3,182.6 574.1,181.6 565.7,175.8 554.6,166.9 546.2,167.9 535.0,166.9 521.1,165.9 509.9,165.9 501.6,161.9 493.2,155.8 490.4,145.5 491.5,135.0 497.1,126.9 512.7,125.9 518.3,135.0 522.8,136.1 521.1,129.6 537.8,127.5 543.4,127.5 557.4,135.0 568.5,137.1 576.9,145.5 588.0,149.7 596.4,155.8 607.6,160.9 615.9,170.9 620.4,177.7 632.7,186.4 638.3,192.1 650.5,198.7 646.6,204.3 645.0,208.9 638.3,213.4 629.9,208.0 621.5,202.4 614.3,200.6 618.7,208.9 629.9,217.9 632.1,231.2 621.5,229.5 610.4,224.6 615.9,231.2 624.3,236.5Z M339.7,166.4 348.1,172.8 358.7,180.2 378.8,179.7 387.2,178.2 401.1,176.8 406.7,174.8 420.6,177.3 426.2,169.9 429.6,165.9 420.6,159.9 409.5,155.8 409.5,145.5 403.9,137.1 398.3,131.8 391.1,139.2 384.4,137.1 376.0,135.5 367.6,137.1 356.5,130.7 349.2,131.3 336.9,136.1 328.0,147.6 334.7,151.7 348.1,150.7 334.2,155.8 336.9,159.9 364.8,161.9 353.7,163.9Z M307.9,154.8 303.5,152.8 293.4,146.0 290.6,136.1 297.9,127.5 300.7,120.9 314.6,118.2 328.6,122.0 336.9,128.6 348.7,130.7 344.2,136.1 336.4,142.4 327.5,148.6 321.3,151.2 314.6,152.2Z M336.9,107.0 345.3,96.1 364.8,97.3 376.0,101.9 387.2,93.2 402.8,103.0 401.1,113.2 387.2,113.8 374.3,116.0 359.3,119.8 353.7,116.0 367.6,112.1 348.1,113.2Z M309.0,101.9 325.8,86.8 345.3,84.4 348.1,95.0 336.9,101.3 323.0,104.2Z M412.3,112.1 426.2,106.4 412.3,96.1 431.8,93.2 445.8,96.1 448.5,107.6 434.6,113.2Z M454.1,113.2 462.5,105.9 472.5,111.0 468.1,117.1 459.7,117.6Z M546.2,117.6 549.0,108.7 537.8,103.0 523.9,104.2 501.6,106.4 493.2,98.5 479.2,95.0 456.9,90.9 452.5,99.6 476.4,104.2 479.2,115.4 501.6,118.7 518.3,118.7 535.0,118.7Z M493.2,96.7 518.3,97.9 546.2,99.6 558.5,93.8 557.4,84.4 574.1,72.4 574.1,66.2 596.4,57.5 590.8,53.7 607.6,46.0 629.9,36.8 646.6,27.4 650.5,21.3 635.5,15.8 604.8,12.3 574.1,13.0 546.2,15.1 518.3,22.0 496.0,27.4 482.0,32.8 479.2,38.1 496.0,47.3 507.1,53.7 512.7,66.2 504.3,76.0 498.8,84.4Z M454.1,54.9 468.1,36.8 484.8,38.1 498.8,49.8 504.3,62.5 496.0,76.0 479.2,74.8 462.5,66.2Z M401.1,67.5 412.3,61.9 434.6,67.5 440.2,78.4 426.2,82.0 409.5,74.8Z M443.0,72.4 454.1,68.7 467.0,74.8 456.9,80.8Z M420.6,135.0 429.0,125.3 443.0,124.2 451.3,132.9 455.2,143.4 448.5,150.7 440.2,152.8 431.8,145.5 423.4,142.4Z M456.9,135.0 462.5,123.7 484.8,124.2 490.4,131.8 482.0,141.3 470.9,145.0 459.7,142.4Z M434.6,173.8 443.0,166.9 456.9,170.9 460.8,177.7 451.3,180.7 440.2,178.7Z M507.1,208.9 518.3,205.2 523.9,211.6 537.8,219.7 545.1,225.1 537.8,226.8 526.7,222.4 515.5,229.5 506.0,226.0 512.7,218.8Z M526.7,233.9 535.0,232.1 537.8,236.5 529.5,239.1Z M543.4,237.3 548.4,237.3 549.0,243.3 544.5,243.3Z M540.6,132.9 549.0,127.5 565.7,131.8 560.1,136.6 549.0,136.6Z M560.1,190.2 565.7,183.5 574.1,187.4 569.6,193.1Z M535.0,312.4 540.6,310.8 545.1,313.1 538.9,314.6Z M661.7,351.9 663.4,347.6 667.3,341.9 669.5,334.6 674.5,327.3 680.7,322.8 682.9,325.8 676.8,333.2 680.1,336.1 684.0,334.6 686.8,339.0 693.5,339.7 694.1,344.7 697.4,347.6 698.5,352.6 696.3,358.6 692.4,355.4 690.2,356.8 685.7,356.8 682.4,354.0 677.3,352.6 669.0,351.9Z M632.7,335.7 641.1,336.1 648.3,340.8 643.8,341.1 636.6,339.7Z M633.2,358.2 636.6,356.4 646.6,360.0 643.8,363.1 638.3,361.7Z M276.1,328.8 283.9,328.4 293.4,333.2 300.7,339.7 304.0,346.2 297.9,345.1 291.2,341.9 286.2,337.5 279.5,333.9Z M249.9,303.2 257.7,304.8 257.2,310.8 261.1,318.4 254.4,313.1 251.0,307.8Z M129.4,278.1 134.4,274.1 141.6,270.9 143.9,276.5 137.2,281.3 131.6,282.5Z M58.5,255.2 65.2,253.5 68.0,256.9 63.5,258.5Z M34.0,226.8 44.0,224.6 51.3,228.6 45.7,231.2 38.4,228.6Z M56.3,310.1 64.6,304.8 65.2,307.8 59.6,310.8Z M49.0,313.9 55.2,308.6 56.3,310.8 50.7,313.9Z M15.0,319.9 21.7,316.9 22.2,319.1 16.1,320.6Z M4.9,322.1 8.3,319.9 9.4,322.1Z M518.6,515.6 523.9,510.7 528.3,508.9 532.8,508.0 539.5,508.0 543.4,508.9 549.0,511.2 554.6,512.4 560.1,515.6 562.4,517.1 568.5,519.7 570.8,522.1 576.9,524.4 578.8,525.0 573.5,527.0 569.6,526.6 559.0,527.3 561.8,522.9 556.2,522.4 554.6,520.6 549.0,516.8 543.7,514.5 538.4,513.9 534.5,512.7 536.2,511.5 533.4,510.7 527.8,513.6 523.9,515.3Z M577.2,536.0 579.1,534.2 586.4,535.4 588.9,534.8 586.4,531.6 583.0,528.5 582.7,527.3 586.4,526.7 589.7,527.9 592.5,527.6 597.0,527.0 602.6,528.5 606.5,530.5 604.2,531.9 609.0,532.5 611.2,534.5 609.5,536.8 602.6,535.4 598.7,536.8 595.9,536.5 594.2,540.3 592.2,538.0 588.0,536.8 581.1,536.9Z M555.4,536.5 557.9,535.1 563.5,535.7 567.1,537.1 567.4,538.6 564.1,538.6 561.8,539.4 559.0,538.8Z M617.6,535.1 624.3,535.1 626.3,536.3 624.9,538.0 617.6,538.3Z M647.2,583.2 649.4,579.3 652.8,578.7 652.2,582.7Z M556.2,495.9 558.5,496.5 559.6,501.8 558.5,504.2 555.7,500.6Z M551.8,486.9 557.4,486.6 559.6,487.8 554.0,488.1Z M559.6,485.7 562.4,487.5 562.9,491.1 561.0,490.5Z M581.4,520.0 584.7,518.9 585.3,520.9 581.9,520.9Z M561.0,591.0 563.8,594.8 566.8,589.1 570.8,586.3 571.3,581.3 574.9,577.6 578.6,576.2 585.3,575.1 589.7,572.8 592.8,569.7 594.7,573.4 591.1,576.2 593.1,578.2 600.3,575.6 600.9,574.5 602.0,571.1 603.4,575.1 608.7,575.3 610.9,579.0 613.2,580.7 619.3,580.1 623.8,580.1 628.8,583.0 631.6,582.4 634.4,580.7 641.1,579.6 647.2,579.6 643.3,582.4 649.4,584.6 653.1,586.9 653.3,591.4 658.9,593.1 666.2,598.7 668.1,601.5 673.4,606.0 684.9,606.5 691.3,607.1 700.8,612.1 704.7,616.1 707.5,617.7 710.8,628.3 713.6,630.0 713.6,633.9 711.4,639.5 716.4,637.8 722.5,640.6 724.8,643.4 728.4,642.8 735.9,645.6 741.5,647.9 744.8,653.5 750.4,652.9 758.2,655.1 766.6,655.4 772.2,656.8 777.8,660.2 784.5,665.7 788.9,668.0 795.6,668.5 797.3,675.8 798.4,679.5 798.1,684.5 795.6,691.5 793.4,693.5 789.5,698.3 785.9,700.8 783.3,705.6 780.6,710.2 777.8,712.4 775.0,717.6 775.0,722.7 775.5,729.0 774.4,734.7 773.9,739.3 771.1,744.5 770.5,750.3 767.7,754.3 764.4,760.1 763.8,764.2 758.2,769.8 751.5,769.8 744.3,771.3 739.3,774.8 734.2,776.0 725.3,781.9 722.0,784.9 721.4,789.7 721.4,797.5 720.3,802.9 715.3,807.8 712.5,813.2 708.0,820.0 701.9,825.2 694.6,834.9 691.3,839.9 686.0,842.8 679.0,842.4 670.1,839.6 666.7,836.8 666.7,840.5 672.9,845.0 674.5,875.3 582.5,875.3 584.1,855.8 587.5,846.2 590.8,836.8 592.8,830.8 593.6,824.3 593.6,818.1 592.5,813.9 594.5,811.7 593.6,802.9 597.0,794.5 598.7,787.9 599.2,781.9 599.8,773.9 598.7,770.7 600.9,764.2 601.2,753.7 600.3,743.9 594.7,739.0 588.0,734.1 582.5,731.2 573.0,726.1 567.4,719.3 565.7,712.4 562.1,707.1 559.0,701.1 556.2,695.5 554.0,690.4 551.8,684.8 546.8,678.1 542.9,674.7 539.8,673.0 540.1,668.0 538.7,665.5 541.2,661.3 544.5,658.5 546.8,654.6 546.2,652.3 541.2,652.3 541.7,645.1 543.4,641.7 545.6,639.5 545.9,635.0 552.3,631.7 552.9,629.5 555.1,625.5 559.0,625.0 560.1,620.0 562.4,617.7 560.7,615.5 561.0,608.8 560.1,608.2 561.0,603.2 557.9,599.3Z M942.4,423.2 942.9,414.2 939.6,411.6 942.9,402.4 944.1,395.8 942.9,389.8 940.7,383.7 948.0,378.6 960.2,379.6 971.4,380.6 982.6,381.0 985.9,372.8 986.5,366.6 985.9,361.7 980.3,355.4 975.9,351.9 968.0,350.4 965.8,346.2 973.1,343.3 981.4,344.4 983.7,344.4 982.6,337.2 985.3,336.8 986.5,339.3 993.2,338.2 1001.0,333.9 1001.5,328.0 1006.5,326.5 1012.1,324.3 1014.9,319.9 1018.8,312.7 1023.3,309.3 1031.7,308.6 1038.4,307.8 1040.6,305.5 1041.7,301.7 1040.6,297.0 1037.8,292.8 1037.8,285.3 1040.6,280.5 1051.7,275.3 1050.6,285.3 1053.4,286.1 1049.5,290.0 1047.3,297.0 1048.4,300.9 1054.0,301.7 1052.9,304.8 1060.1,303.2 1062.3,301.3 1067.4,299.8 1069.6,304.0 1072.4,305.5 1081.9,302.8 1093.0,298.6 1096.9,301.7 1102.0,301.3 1104.2,297.8 1109.8,294.7 1110.3,291.6 1109.8,282.9 1112.6,278.1 1118.7,275.3 1122.1,280.5 1126.5,280.9 1128.8,274.9 1129.3,270.0 1123.7,268.4 1123.7,263.5 1131.0,261.0 1140.5,260.6 1148.8,260.2 1157.2,257.3 1161.1,257.3 1152.7,252.3 1143.3,252.7 1132.1,255.2 1120.9,258.1 1115.4,253.5 1111.5,248.5 1112.6,243.3 1110.3,234.7 1113.1,229.5 1120.9,223.3 1129.3,216.1 1134.3,213.4 1133.8,208.9 1129.3,206.1 1123.7,206.1 1116.5,208.0 1112.6,215.2 1109.8,217.9 1105.9,224.2 1098.1,229.5 1092.5,235.6 1089.7,237.3 1088.6,243.3 1088.6,251.0 1095.8,254.4 1098.1,258.5 1093.6,262.7 1090.8,266.8 1085.8,272.5 1085.2,274.9 1084.1,283.7 1081.9,288.5 1072.4,293.2 1069.6,293.9 1064.6,293.9 1063.5,289.2 1062.3,282.1 1059.0,275.7 1055.1,268.4 1054.5,264.3 1052.3,257.7 1050.1,263.5 1046.7,265.1 1041.7,270.0 1037.2,272.5 1031.7,273.3 1024.4,267.2 1021.1,259.4 1020.5,253.5 1019.9,247.6 1020.5,239.9 1027.2,235.6 1033.3,230.4 1040.0,227.7 1046.2,225.1 1052.3,217.0 1055.1,214.3 1061.2,208.0 1065.1,198.7 1072.4,192.1 1079.1,185.5 1084.7,180.7 1090.2,173.8 1098.1,168.9 1107.0,164.9 1115.4,161.9 1124.8,158.9 1136.6,154.3 1147.2,154.8 1151.6,159.9 1160.0,161.9 1166.1,162.4 1157.2,167.9 1164.5,167.9 1171.2,166.4 1179.5,172.8 1187.9,173.8 1199.1,178.7 1213.0,185.0 1221.4,192.1 1222.5,196.8 1215.8,202.4 1207.4,204.3 1196.3,201.5 1186.8,198.7 1176.7,197.8 1173.9,194.0 1179.5,201.5 1185.1,208.9 1186.2,217.9 1193.5,222.4 1201.8,224.2 1205.2,223.3 1201.8,218.8 1196.8,212.5 1207.4,215.2 1215.8,217.0 1215.8,208.0 1224.2,201.5 1229.8,200.1 1238.1,204.3 1238.1,196.8 1235.3,190.2 1238.1,180.2 1249.3,183.5 1252.1,195.0 1263.2,188.3 1271.6,183.5 1288.3,179.7 1293.9,182.6 1310.7,179.7 1321.8,176.8 1330.2,169.9 1338.6,168.9 1349.7,173.8 1363.7,176.8 1374.8,179.7 1366.5,168.9 1365.3,158.9 1369.2,150.7 1374.8,140.3 1383.2,133.9 1397.2,137.1 1398.8,150.7 1397.2,165.9 1394.4,180.7 1399.9,187.4 1396.0,200.6 1405.5,190.2 1405.5,175.8 1408.3,160.9 1408.3,145.5 1425.0,143.4 1433.4,140.3 1461.3,145.5 1461.3,543.7 1451.3,544.3 1440.1,555.2 1440.7,566.0 1437.9,575.1 1438.2,581.8 1433.4,587.5 1429.0,589.7 1425.3,594.3 1419.5,589.1 1418.4,583.8 1415.6,576.5 1410.3,567.1 1406.1,556.3 1404.4,552.3 1401.6,543.7 1399.1,532.2 1398.3,523.5 1397.7,520.0 1397.7,513.0 1395.5,517.7 1388.8,522.1 1383.2,519.4 1377.6,513.0 1383.2,511.2 1377.6,508.9 1373.2,504.8 1368.7,503.0 1364.8,498.0 1364.2,494.7 1355.3,495.3 1346.9,495.9 1340.2,496.5 1335.8,496.5 1330.7,495.3 1321.8,494.7 1315.1,493.5 1310.7,486.9 1307.3,484.5 1299.5,486.9 1296.7,487.5 1288.3,485.1 1285.5,482.1 1280.0,479.7 1276.6,473.7 1272.7,467.0 1266.0,464.5 1263.2,467.3 1260.2,470.6 1262.7,476.1 1264.9,480.9 1269.9,485.7 1272.2,488.1 1272.7,493.5 1276.1,498.3 1276.1,494.1 1278.3,490.5 1280.5,495.9 1280.5,499.5 1278.9,501.8 1285.5,502.1 1293.9,501.8 1296.2,500.3 1301.2,495.6 1305.6,490.8 1307.0,489.0 1307.3,497.1 1310.7,503.0 1319.6,505.4 1326.3,511.8 1320.7,522.9 1315.1,532.2 1307.9,538.6 1299.5,543.7 1294.5,543.7 1283.9,550.6 1271.6,556.0 1266.0,559.2 1257.7,563.2 1243.7,567.7 1235.3,568.5 1233.7,564.9 1232.0,556.3 1230.3,547.2 1230.0,544.3 1222.5,535.1 1218.6,528.2 1211.3,517.7 1207.4,508.9 1204.6,502.4 1200.2,495.9 1196.3,489.9 1190.7,482.1 1185.7,479.1 1187.6,470.0 1184.6,477.3 1183.7,480.6 1180.1,477.3 1177.9,475.5 1174.5,467.3 1172.8,459.3 1181.2,460.2 1183.4,459.0 1186.8,454.1 1187.9,449.7 1190.7,442.9 1192.9,436.6 1192.4,432.8 1193.5,429.6 1194.6,425.8 1190.7,425.8 1185.7,424.5 1179.5,428.9 1174.5,428.9 1171.2,426.4 1163.9,424.2 1162.2,428.0 1155.0,425.1 1150.0,425.1 1144.9,423.2 1144.4,417.4 1140.5,414.2 1141.6,408.3 1138.2,407.0 1138.8,403.7 1143.3,401.1 1148.8,401.1 1154.4,400.7 1159.4,399.1 1156.1,398.1 1154.7,396.8 1155.3,395.6 1161.7,395.8 1167.8,395.1 1172.8,392.1 1178.4,390.4 1187.9,389.8 1195.2,395.1 1201.8,396.8 1206.9,397.4 1214.1,397.1 1224.2,393.8 1224.7,389.1 1221.4,383.7 1214.1,379.6 1207.4,374.5 1203.5,372.1 1197.4,369.0 1196.3,369.7 1190.1,370.0 1184.6,373.1 1181.2,374.2 1179.0,372.8 1179.5,368.7 1173.9,367.6 1180.1,362.4 1173.9,362.4 1170.6,359.6 1165.6,358.9 1161.1,364.1 1158.3,368.0 1152.7,375.5 1151.9,381.0 1148.3,382.3 1146.0,387.1 1148.8,390.4 1154.4,395.4 1154.1,397.1 1148.8,397.1 1146.0,397.4 1143.3,399.7 1141.6,401.1 1138.8,401.7 1137.7,398.4 1132.1,397.8 1128.8,397.8 1125.4,401.1 1128.2,402.7 1123.2,404.0 1120.4,400.4 1118.7,403.0 1120.4,408.3 1122.6,409.6 1120.9,411.6 1126.5,415.5 1126.8,419.0 1123.7,417.4 1120.9,417.4 1123.7,420.6 1119.8,420.0 1121.5,426.4 1118.2,427.0 1114.8,424.8 1111.5,418.7 1111.5,415.5 1110.3,414.8 1108.1,411.2 1105.3,406.3 1100.9,401.1 1100.9,394.4 1099.7,390.4 1095.8,387.4 1090.2,383.7 1084.1,380.3 1077.4,376.2 1075.7,370.7 1073.5,368.0 1070.2,371.4 1068.5,366.6 1065.7,365.5 1061.2,367.6 1061.8,371.4 1061.2,374.8 1062.9,376.9 1067.9,379.6 1070.7,385.7 1071.8,387.4 1079.1,391.1 1083.0,391.1 1081.3,393.8 1086.9,396.4 1093.0,399.4 1095.8,402.7 1095.0,405.0 1092.5,402.1 1088.6,400.7 1085.2,403.7 1084.7,406.3 1088.6,410.3 1085.2,411.6 1084.7,414.8 1082.4,417.1 1079.9,416.1 1080.8,412.9 1083.0,411.6 1082.4,407.6 1079.6,403.4 1076.3,402.1 1075.7,399.4 1071.8,398.4 1068.5,395.4 1062.9,394.1 1060.7,392.1 1054.5,387.7 1051.2,384.0 1050.1,380.3 1047.6,376.6 1042.3,374.2 1038.4,377.2 1034.4,378.6 1031.1,380.3 1027.2,383.0 1022.2,381.7 1018.3,381.0 1014.9,380.0 1012.1,381.7 1009.3,384.4 1010.5,388.4 1009.9,391.4 1004.9,394.4 998.2,396.8 997.6,398.7 992.6,404.4 990.9,407.3 993.7,411.9 989.8,414.8 988.7,419.0 982.0,423.5 980.3,424.8 975.9,424.8 968.0,425.1 962.7,428.6 961.4,429.6 957.4,426.1 954.1,421.9 948.5,423.2Z M1174.2,467.3 1175.1,473.1 1176.7,477.3 1180.1,483.3 1184.0,490.5 1187.9,498.3 1190.7,503.3 1191.2,508.9 1198.5,514.8 1200.2,520.6 1200.2,528.7 1201.3,533.4 1207.4,538.0 1211.3,546.6 1213.0,551.8 1217.5,555.2 1222.5,558.0 1227.0,563.2 1230.9,566.6 1234.2,569.4 1233.4,574.5 1235.3,576.2 1238.1,581.0 1243.7,581.0 1252.1,579.0 1257.7,577.0 1266.0,576.2 1272.2,575.1 1278.0,573.1 1278.3,577.9 1277.7,581.3 1276.1,587.5 1271.6,594.8 1268.8,600.4 1266.0,606.0 1262.1,611.6 1257.7,617.2 1252.1,622.8 1245.7,628.1 1238.1,633.9 1230.0,641.5 1224.7,648.4 1220.8,652.3 1216.9,656.2 1213.8,662.1 1211.3,667.4 1209.1,673.0 1211.9,677.5 1213.0,684.2 1213.6,689.9 1218.0,698.3 1219.1,706.8 1218.9,712.4 1220.3,721.0 1220.0,723.8 1215.8,731.2 1210.2,735.3 1199.1,740.4 1193.5,746.2 1187.1,751.7 1186.2,756.6 1189.6,762.5 1190.7,765.4 1190.7,774.8 1187.9,779.5 1180.1,783.1 1174.5,787.6 1176.2,793.0 1173.4,803.5 1165.9,811.1 1160.0,820.0 1151.1,828.7 1140.5,835.2 1135.7,836.8 1131.0,838.0 1123.2,837.4 1116.2,838.0 1104.2,842.0 1095.8,839.0 1095.3,836.1 1093.0,828.7 1094.7,822.5 1089.1,813.9 1087.5,807.8 1084.7,803.5 1080.2,796.9 1077.1,791.8 1075.7,781.9 1073.5,776.0 1073.5,769.8 1070.7,761.3 1066.3,752.6 1062.3,745.1 1058.2,736.7 1058.4,729.5 1060.4,725.0 1062.3,715.3 1067.4,708.8 1069.6,701.1 1067.4,692.7 1066.3,688.7 1064.6,681.4 1061.2,673.6 1060.7,669.1 1058.4,665.2 1054.0,660.7 1048.4,654.6 1044.5,650.1 1041.7,643.4 1045.1,637.3 1046.2,633.4 1047.3,626.7 1046.7,621.6 1046.7,617.7 1042.3,613.8 1040.0,613.8 1031.7,614.9 1026.6,615.5 1020.5,607.1 1017.7,604.3 1011.6,603.7 1006.0,604.0 999.3,605.4 992.6,608.2 981.2,613.0 975.9,611.0 970.3,610.2 961.9,611.0 950.8,615.2 942.4,611.6 932.3,604.3 928.4,600.9 922.8,598.1 918.7,592.0 916.2,586.3 911.1,580.7 908.9,577.9 903.3,572.8 899.4,570.0 898.9,564.0 894.9,556.9 900.5,549.5 903.0,537.4 901.6,529.9 897.5,521.8 898.3,515.9 901.6,508.9 903.6,504.8 909.5,498.9 911.7,490.2 917.8,480.9 920.3,479.4 925.6,477.3 930.7,474.3 935.7,470.6 939.0,464.5 937.9,457.8 941.0,452.8 945.2,446.9 950.2,444.7 954.7,441.9 957.4,434.7 959.4,430.9 962.7,430.2 966.4,434.7 970.8,434.3 976.1,434.0 980.3,435.3 987.0,431.5 993.2,428.9 999.9,426.1 1009.6,424.5 1017.7,423.8 1021.1,424.8 1031.1,423.8 1035.8,423.8 1040.6,423.5 1047.6,420.9 1050.1,424.2 1054.5,422.5 1051.7,427.0 1052.0,430.9 1054.5,434.7 1052.6,437.8 1049.0,442.9 1054.5,447.2 1061.2,449.4 1066.3,449.1 1072.4,451.0 1076.9,452.2 1079.1,457.8 1085.2,459.6 1093.0,463.3 1098.6,465.1 1104.2,461.5 1104.8,454.1 1109.8,450.0 1113.7,449.1 1121.5,451.0 1126.5,454.7 1132.9,457.2 1144.7,458.7 1154.4,461.8 1159.4,459.6 1165.6,457.5 1170.0,457.8 1172.8,459.3Z M1267.7,706.8 1271.0,714.1 1274.4,725.5 1270.5,727.2 1268.3,736.4 1267.7,743.9 1263.2,755.5 1259.9,766.6 1255.4,781.3 1244.8,785.5 1238.1,781.9 1234.8,769.5 1234.2,763.1 1240.4,752.6 1239.8,738.1 1243.7,730.1 1252.1,726.7 1259.9,721.0 1264.3,713.6Z M960.8,334.2 969.2,332.4 973.1,332.4 975.9,329.5 982.0,330.2 985.3,328.8 994.3,329.1 1000.4,326.2 1000.4,324.3 996.5,323.6 998.2,321.4 1002.1,316.1 1002.1,312.7 994.8,312.7 993.2,308.6 992.0,304.8 989.3,300.9 985.3,297.8 983.7,293.2 980.9,290.0 975.9,289.2 978.1,286.9 980.9,280.5 982.6,276.5 975.9,275.7 970.3,276.5 975.3,269.2 964.7,268.4 960.2,274.9 960.8,282.1 958.0,283.7 961.4,287.7 960.8,294.7 965.3,292.4 965.8,297.8 970.3,298.6 975.9,297.4 973.1,301.7 976.4,304.8 975.3,309.3 968.0,309.3 966.9,313.9 969.7,317.6 963.0,320.6 968.6,322.8 975.3,324.3 971.4,325.8 967.5,327.3 964.7,331.7Z M936.8,322.8 939.0,324.3 946.8,321.4 956.9,318.4 959.1,313.1 959.1,306.3 961.4,300.1 958.6,295.5 951.3,294.3 945.2,298.6 944.6,302.5 936.8,302.5 937.4,309.3 942.4,311.6 938.5,315.4 934.6,319.1Z M1061.8,416.7 1066.8,415.5 1079.6,414.8 1076.9,421.3 1076.9,425.4 1072.4,423.2 1062.3,419.3Z M1038.4,397.8 1043.9,395.4 1047.3,400.4 1046.2,408.9 1042.3,410.9 1039.5,408.9 1039.5,401.7Z M1040.6,387.7 1045.1,383.7 1045.9,389.8 1043.9,394.4 1041.1,392.4Z M1123.7,434.0 1127.6,432.1 1136.0,433.7 1139.4,434.7 1138.8,435.9 1131.0,436.2 1124.3,434.7Z M1172.8,435.6 1176.7,433.7 1185.7,431.5 1182.3,435.9 1176.7,438.5Z M1006.0,407.0 1009.9,404.0 1011.6,405.7 1009.3,408.3Z M1120.9,410.9 1123.2,410.3 1129.9,416.1 1129.3,417.1 1124.3,413.5Z M1147.2,428.3 1150.0,426.7 1149.4,429.6Z M1137.1,408.9 1140.5,407.6 1141.0,410.3 1138.2,410.3Z M1053.4,291.6 1057.9,289.6 1062.3,288.5 1062.9,292.4 1060.1,297.0 1055.1,295.5Z M1046.7,293.9 1050.1,292.4 1052.9,294.7 1051.2,297.0 1047.8,296.3Z M1054.0,298.2 1059.0,297.8 1059.6,300.1 1055.1,299.8Z M1093.6,280.5 1098.1,274.1 1098.6,278.1 1095.3,281.7Z M1084.1,287.7 1088.0,278.5 1086.3,284.5Z M1114.2,270.9 1118.7,268.4 1122.6,269.2 1119.3,271.7 1115.4,273.7Z M1115.9,266.0 1119.8,264.7 1120.9,266.8 1117.6,267.6Z M1074.6,295.9 1076.9,295.1 1076.9,297.0Z M951.3,239.1 955.8,236.9 956.9,239.9 953.0,242.5Z M983.7,256.0 987.0,250.6 987.6,254.4 985.3,257.7Z M974.2,265.1 978.1,262.7 978.7,266.0Z M953.0,272.5 957.4,269.2 958.0,272.1 954.1,275.3 951.9,278.1 951.3,275.7Z M955.2,278.1 958.0,276.1 960.8,279.7 957.4,280.5Z M957.4,285.3 960.8,285.3 959.7,286.9Z M956.3,290.8 958.6,290.0 958.6,292.4Z M1064.6,186.4 1070.7,182.6 1076.3,180.7 1080.8,176.3 1081.9,178.7 1076.3,183.5 1067.9,186.4Z M1073.5,178.7 1079.6,172.8 1082.4,173.8 1078.0,178.7Z M1086.9,173.8 1091.9,170.4 1093.0,172.8 1088.6,175.3Z M1053.4,60.0 1059.6,56.2 1073.5,56.2 1081.9,53.7 1093.0,58.7 1107.0,61.2 1112.6,69.9 1098.6,72.4 1098.1,78.4 1090.2,85.6 1087.5,95.0 1079.1,91.5 1070.7,84.4 1069.0,77.2 1056.8,71.1 1054.0,65.0Z M1093.0,52.4 1104.2,47.9 1118.2,48.5 1132.1,51.1 1144.4,54.9 1129.3,62.5 1112.6,61.2 1098.6,57.5Z M1112.6,76.0 1123.7,79.6 1129.3,84.4 1118.2,87.4 1109.8,84.4Z M1109.2,71.1 1117.0,71.8 1113.7,75.4Z M1280.0,149.7 1285.5,142.4 1291.1,132.9 1302.3,131.3 1313.4,129.6 1310.7,145.5 1305.1,155.8 1313.4,159.9 1302.3,159.9 1291.1,156.8Z M1293.9,129.6 1299.5,118.7 1307.9,109.8 1321.8,103.0 1338.6,97.3 1358.1,93.8 1374.8,90.9 1376.5,97.3 1360.9,103.0 1338.6,108.7 1330.2,115.4 1319.0,122.0 1313.4,128.0 1302.3,130.2Z M1243.7,46.0 1254.9,42.7 1268.8,44.0 1274.4,49.8 1260.4,52.4 1249.3,49.8Z M1282.8,49.8 1296.7,46.0 1313.4,43.4 1321.8,47.3 1310.7,52.4 1293.9,53.0Z M1327.4,43.4 1341.3,40.8 1355.3,44.7 1344.1,47.9 1330.2,47.9Z M1293.9,39.4 1313.4,32.8 1321.8,36.1 1307.9,40.8Z M1262.1,173.8 1267.7,170.9 1272.7,174.8 1267.7,178.2Z M1319.6,164.9 1324.6,161.4 1330.2,165.9 1325.2,168.9Z M1380.4,132.9 1391.6,129.6 1393.2,133.9 1384.9,135.0Z M1211.3,671.9 1213.0,673.0 1213.0,675.5 1211.6,674.7Z M1214.1,666.9 1215.0,668.0 1214.1,669.7Z M1233.7,703.4 1235.3,704.5 1234.2,706.2Z M1040.0,618.8 1042.5,618.8 1041.1,621.4Z M1028.9,637.8 1030.3,637.5 1029.4,639.5Z M898.3,477.0 902.5,475.8 900.5,478.8Z M904.4,478.8 906.7,478.2 906.4,480.3Z M911.7,478.5 915.3,474.9 915.0,477.9Z M915.3,473.1 917.5,471.9 917.0,473.7Z M896.3,449.7 899.4,449.7 898.3,451.0Z M860.1,553.5 861.7,554.0 861.5,555.8Z M851.4,543.2 853.1,542.9 853.1,544.0Z M848.4,417.7 852.3,417.7 850.3,418.7Z M2019.3,145.5 2019.3,219.7 2033.3,219.7 2036.1,214.3 2044.4,218.4 2051.1,219.7 2052.8,208.9 2044.4,207.0 2048.3,204.3 2054.5,203.4 2047.2,195.9 2036.1,193.1 2027.7,187.4 2019.3,181.6Z M1988.6,155.8 1997.0,150.7 2008.2,152.8 2010.9,156.8 1999.8,157.9Z M481.5,641.2 485.4,641.7 484.8,645.1 482.0,644.5Z M487.1,642.3 489.3,642.6 488.7,644.0Z"/>
<path fill="#0b1525" d="M478.7,358.1 484.8,356.9 488.2,359.3 496.0,357.2 499.9,354.3 503.2,352.9 499.3,356.8 504.9,359.6 512.7,358.6 518.3,357.9 520.5,360.0 520.0,356.1 518.3,349.7 512.7,344.4 501.6,342.9 499.3,345.4 494.3,349.0 488.7,351.5 482.0,356.1Z M503.8,392.4 509.4,390.8 511.0,383.7 509.9,376.9 512.2,371.4 516.1,368.7 518.3,364.8 515.0,363.1 509.4,364.1 506.6,365.9 502.1,372.8 504.9,370.7 506.6,368.7 504.1,374.8 502.4,383.7 502.7,388.4Z M519.7,364.1 526.7,368.0 527.8,370.7 527.8,374.8 524.4,379.3 530.0,376.6 532.8,383.4 536.7,378.9 537.3,373.5 538.4,368.3 541.2,371.8 545.9,373.5 547.3,370.4 543.4,365.9 537.8,363.1 529.5,361.7 523.3,361.4Z M526.9,392.4 532.2,394.4 536.7,393.8 545.6,389.4 552.3,385.0 549.0,384.5 543.4,386.4 537.8,386.3 532.2,390.1 528.9,389.8Z M547.3,381.7 549.5,379.3 557.4,377.1 565.7,375.5 567.4,379.6 559.6,382.0 551.8,381.8Z M1260.4,364.5 1268.8,360.0 1278.3,356.8 1287.2,357.9 1289.5,367.3 1284.4,368.0 1278.3,369.3 1273.3,372.8 1276.6,375.5 1278.3,381.7 1282.8,385.0 1286.7,390.4 1287.8,397.1 1287.2,403.7 1291.1,407.0 1289.5,410.3 1293.4,420.6 1293.6,423.8 1285.5,425.1 1277.2,425.1 1271.6,420.9 1266.0,420.3 1265.5,414.2 1265.5,408.9 1268.3,407.3 1268.8,402.4 1273.8,401.4 1269.4,399.4 1267.1,396.4 1263.8,391.1 1258.2,383.7 1257.1,378.9 1254.3,374.2 1256.0,370.0Z M1287.8,397.1 1290.0,390.4 1297.3,391.1 1297.8,395.8 1292.8,399.1Z M1196.5,367.6 1201.8,365.2 1204.1,360.3 1206.3,358.2 1211.9,355.0 1204.6,355.4 1197.9,357.9 1189.6,360.7 1187.9,363.1 1187.3,364.5 1190.7,367.6 1195.7,366.9Z M1169.5,644.5 1170.0,638.4 1174.5,638.4 1177.9,637.0 1182.3,638.7 1182.9,641.7 1186.8,641.2 1181.8,646.2 1181.8,651.2 1178.4,653.5 1176.2,654.3 1172.3,654.6 1169.5,652.9 1169.5,647.9Z M1156.1,658.2 1158.6,664.6 1158.6,670.2 1158.9,674.7 1163.3,681.4 1166.4,688.4 1162.8,685.9 1159.4,679.7 1155.5,673.0 1156.1,667.4 1155.0,661.8Z M1182.0,692.9 1185.4,698.3 1187.3,705.6 1187.6,712.4 1189.3,720.1 1186.2,719.3 1184.6,712.4 1183.4,706.8 1182.9,700.6Z M1317.4,374.2 1319.6,365.9 1322.9,361.7 1330.7,358.2 1334.7,361.0 1328.5,365.2 1323.5,368.7 1321.3,374.8Z M602.0,726.1 605.9,727.2 609.3,731.8 605.9,731.2Z M593.1,578.2 596.4,581.8 595.9,587.5 591.4,588.0 589.7,583.5Z"/>
<path fill="none" stroke="#0e1624" stroke-width="0.9" stroke-linejoin="round" d="M305.7,341.9 461.7,341.9 461.7,339.0 464.7,344.0 479.2,346.9 490.4,348.3 493.7,349.0 M566.8,375.5 574.1,370.7 575.8,370.0 593.6,370.0 597.0,368.0 600.3,363.8 602.0,358.2 606.5,352.9 611.5,353.6 614.3,355.7 614.3,364.5 616.5,368.0 618.7,370.7 M205.8,169.4 205.8,254.4 216.4,256.0 225.3,265.1 231.5,261.0 236.5,258.9 248.2,270.0 256.0,281.3 267.2,289.2 266.6,297.0 M339.2,451.6 352.6,450.3 352.0,451.6 372.7,458.8 388.8,458.8 388.8,456.0 398.3,456.0 406.7,463.0 409.5,469.1 416.7,473.2 420.6,468.5 426.8,468.4 431.8,475.2 437.4,482.1 439.6,488.7 450.5,491.4 M478.1,557.7 478.1,553.8 480.9,549.1 487.9,549.1 482.6,542.3 484.8,542.3 484.8,539.0 495.1,539.0 495.1,538.3 496.8,538.6 499.9,535.1 M495.1,539.0 494.9,550.0 496.5,550.0 M500.4,551.2 495.1,554.9 494.0,558.5 489.8,562.3 M494.0,558.5 498.8,560.9 503.2,561.7 502.7,564.3 M505.5,566.6 508.8,564.9 512.7,561.2 518.3,557.7 521.1,556.9 528.6,555.2 M514.4,577.3 520.0,577.6 525.8,578.4 M529.7,593.4 530.3,589.1 532.0,586.1 M561.0,591.0 561.8,595.3 557.9,599.3 M592.2,537.7 591.4,534.5 592.5,531.6 592.2,528.2 M594.5,573.1 589.7,577.3 585.3,587.5 588.6,592.5 588.0,597.6 596.4,600.4 604.8,605.4 615.9,604.9 614.3,615.5 617.1,623.9 619.3,632.8 M619.3,632.8 602.8,630.0 605.3,636.2 601.7,640.6 605.3,646.2 602.3,662.9 M602.3,662.9 598.1,660.7 585.8,652.9 581.4,646.5 573.0,640.1 M573.0,640.1 566.8,637.3 560.1,635.6 552.9,631.7 M573.0,640.1 570.8,647.9 565.2,654.0 557.4,657.9 555.1,665.2 551.8,667.4 546.2,664.1 544.5,658.5 M602.3,662.9 585.8,667.4 579.7,680.9 585.3,691.5 589.2,693.2 598.7,693.2 598.7,701.1 604.2,700.8 M604.2,700.8 609.3,710.2 607.6,722.7 605.9,729.5 604.8,738.1 M604.8,738.1 600.3,743.0 M604.2,700.8 609.8,701.7 620.4,694.9 627.7,693.8 628.2,705.6 638.3,710.2 647.8,715.3 655.6,717.0 656.7,731.2 667.3,731.2 667.3,737.0 671.2,741.0 670.1,746.8 668.1,753.5 M668.1,753.5 662.8,748.5 648.3,750.3 645.0,755.5 643.0,765.7 M643.0,765.7 633.8,768.9 628.8,764.8 623.2,763.1 617.6,768.9 M617.6,768.9 612.0,760.1 610.4,751.4 607.6,746.8 604.8,738.1 M617.6,768.9 617.1,776.0 610.4,780.7 610.9,790.9 603.7,802.9 602.0,815.1 599.2,824.3 602.0,832.4 602.6,838.7 599.2,845.0 596.4,855.8 M643.0,765.7 652.2,774.8 663.4,780.7 671.2,784.3 665.6,795.4 680.1,796.3 687.9,785.5 M668.1,753.5 669.5,764.8 680.1,766.0 683.5,776.0 689.6,776.6 687.9,785.5 M687.9,785.5 693.0,793.3 681.8,801.1 671.2,813.2 M671.2,813.2 680.1,816.9 685.7,820.0 695.7,828.7 694.6,834.9 M671.2,813.2 667.8,827.4 666.7,836.8 M619.3,632.8 629.9,633.9 638.8,626.1 632.7,616.6 642.2,617.2 653.6,610.5 M653.6,610.5 650.0,606.5 651.7,602.1 656.1,599.8 658.9,593.1 M653.6,610.5 658.4,614.4 660.0,617.2 659.2,629.2 663.9,632.2 672.9,628.6 677.3,628.9 M677.3,628.9 672.9,620.5 669.0,615.5 672.9,610.5 673.7,606.5 M677.3,628.9 680.7,628.3 687.9,626.7 697.4,627.2 702.4,619.4 704.4,616.6 M687.9,626.7 690.2,619.4 691.3,607.1 M980.3,435.3 982.6,439.7 983.1,446.6 985.9,454.1 976.4,454.7 972.5,461.5 963.6,467.6 953.0,469.4 944.2,474.9 944.2,483.3 965.6,497.1 999.3,520.0 1002.6,524.7 1010.5,527.6 1011.0,532.2 1016.3,531.3 1025.0,529.9 1034.4,521.8 1059.4,506.0 M944.2,481.1 919.5,481.1 M944.2,483.3 944.2,491.1 925.6,491.1 925.6,506.2 920.1,508.9 919.5,518.7 898.0,518.7 M965.6,497.1 955.9,497.1 961.4,552.3 940.7,552.3 932.9,552.9 928.4,551.8 924.5,556.3 M924.5,556.3 918.4,548.9 912.8,546.0 903.3,546.6 900.5,549.2 M924.5,556.3 924.5,566.6 929.0,570.0 M929.0,570.0 916.2,568.8 899.4,570.2 M916.2,568.8 916.2,573.9 908.9,578.2 M898.9,563.2 908.9,562.0 915.6,564.3 908.9,565.4 898.9,566.0 M918.4,588.9 923.4,584.1 930.1,583.5 933.5,588.6 935.1,592.0 928.4,600.7 M935.1,592.0 940.1,598.1 945.2,597.0 950.8,615.2 M929.0,570.0 940.7,570.0 948.0,582.4 945.2,597.0 M948.0,582.4 958.0,580.1 961.9,581.0 977.0,585.2 977.3,586.9 975.3,611.0 M977.3,586.9 976.7,577.9 991.8,577.3 997.6,577.9 1006.0,570.5 1012.7,573.9 M991.8,577.3 995.4,586.3 995.9,597.6 999.3,605.4 M997.6,577.9 1001.5,589.1 1001.8,604.6 M1012.7,573.9 1007.9,589.1 1007.7,603.7 M961.9,581.0 963.6,573.4 968.0,568.3 975.9,562.6 981.4,559.7 988.7,554.6 993.7,555.2 998.2,564.3 1006.0,570.5 M993.7,555.2 1012.1,552.9 1016.0,549.5 1016.3,531.3 M1059.4,506.0 1050.1,499.5 1045.1,489.9 1047.8,479.1 1045.6,465.8 1043.1,454.1 1034.4,442.9 1038.9,435.9 1040.6,423.5 M1045.6,465.8 1050.1,460.9 1057.0,447.5 M1059.4,506.0 1071.8,511.2 1076.3,508.9 1126.5,529.3 1126.5,526.4 1132.1,526.4 1132.1,514.8 1132.1,471.9 1130.4,465.8 1132.9,457.2 M1132.1,514.8 1198.5,514.8 M1076.3,508.9 1079.1,520.6 1079.1,544.3 1068.5,562.6 M1012.7,573.9 1014.4,566.6 1023.3,561.4 1036.1,564.9 1048.4,564.9 1061.2,566.0 1068.5,562.6 M1071.3,566.0 1074.1,575.1 1066.3,585.8 1059.0,599.8 1051.2,600.4 1042.8,607.1 1040.6,612.7 M1071.3,566.0 1076.9,577.9 1079.1,583.5 1071.8,583.5 1079.1,597.6 1096.4,594.8 1098.6,589.1 1109.8,584.6 1120.4,578.4 1115.4,568.3 1118.2,559.7 1126.5,551.2 1126.5,529.3 M1120.4,578.4 1124.8,590.8 1132.1,581.8 1148.8,586.9 1160.0,584.1 1173.4,572.2 1177.9,571.1 1177.3,579.6 1182.9,586.3 M1124.8,590.8 1145.5,611.0 1133.8,611.6 1120.4,612.7 1117.6,616.6 1107.5,614.9 1096.4,620.0 M1079.1,597.6 1073.5,606.0 1074.1,614.4 1082.4,627.2 1085.2,620.0 1096.4,620.0 M1047.3,626.7 1055.7,627.2 1066.8,627.2 1082.4,627.2 M1046.2,633.9 1055.7,633.9 1055.7,627.2 M1054.5,661.3 1059.0,657.9 1064.0,650.7 1073.0,650.1 1073.5,642.8 1070.2,638.4 1072.4,631.7 1066.8,627.2 M1096.4,620.0 1092.5,633.9 1091.4,642.8 1083.0,651.8 1083.0,658.5 1073.0,666.9 1065.7,665.2 1061.2,671.3 M1061.2,673.0 1085.2,672.5 1090.8,684.8 1100.9,684.2 1114.2,680.3 1115.4,695.5 1117.0,702.3 1126.5,700.6 1126.5,712.4 1115.4,712.4 1115.4,730.7 1123.2,738.7 M1058.2,736.7 1070.7,737.6 1095.8,737.6 1112.0,741.0 1123.2,738.7 1133.8,739.9 M1109.8,742.7 1109.8,764.2 1104.2,764.2 1104.2,802.3 1090.2,804.1 1084.4,803.5 M1104.2,780.7 1108.1,792.7 1119.3,784.3 1134.9,786.1 1142.7,774.2 1156.7,765.4 1147.2,755.5 1133.8,739.9 1143.3,741.0 1153.9,729.5 1162.2,727.2 1176.2,733.5 1176.7,749.7 1173.9,760.1 1167.3,766.6 1156.7,765.4 M1167.3,766.6 1171.2,779.0 1171.2,787.9 1176.2,793.0 M1143.3,809.6 1148.8,804.1 1156.1,806.5 1155.0,812.0 1150.0,815.7 1145.5,813.9 1143.3,809.6 M1165.6,786.7 1170.6,787.3 1171.7,792.7 1165.6,795.1 1164.5,790.3 1165.6,786.7 M1126.5,701.1 1134.3,702.3 1144.4,706.8 1151.1,709.6 1154.4,714.7 1158.9,714.7 1158.9,707.9 1151.1,705.6 1152.2,692.7 1153.9,687.0 1164.5,685.9 1176.2,692.1 1178.4,700.0 1176.7,710.2 1175.1,715.8 1177.9,718.1 1161.1,722.7 1162.2,727.2 M1177.9,718.1 1185.1,721.0 1192.9,723.2 1192.4,729.5 1189.6,735.8 1184.0,729.5 1185.1,721.0 M1187.7,704.3 1203.5,702.8 1218.3,698.0 M1162.8,645.1 1181.8,645.1 1202.4,656.2 1203.0,659.0 1211.3,665.5 M1162.8,645.1 1164.5,652.3 1162.8,657.9 1156.7,664.1 M1156.1,657.9 1154.4,654.6 1155.5,648.4 1157.8,647.3 1157.8,642.3 1159.4,635.0 1167.3,627.2 1164.5,620.0 1182.3,616.1 1192.9,613.8 M1154.4,654.6 1162.8,652.9 M1181.8,645.1 1182.3,638.4 1185.1,633.4 1187.9,628.9 1182.3,616.1 M1145.5,611.0 1157.2,614.9 1164.5,620.0 M1192.9,613.8 1187.9,608.8 1182.3,600.4 1176.7,594.8 1182.9,586.3 1184.0,580.1 1188.5,572.2 1194.0,568.3 1196.3,559.2 1199.1,543.7 1208.0,538.0 M1192.9,613.8 1198.5,614.9 1205.2,619.4 1213.0,620.5 1226.4,617.4 1221.4,623.9 1221.4,644.0 1224.7,648.4 M1226.4,617.4 1235.3,612.7 1243.7,611.9 1260.3,594.8 1254.9,594.8 1238.1,589.4 1231.4,578.2 1233.9,575.1 M1196.3,559.2 1204.1,555.8 1210.2,557.5 1220.3,560.3 1229.2,569.4 1233.1,568.3 M1229.2,569.4 1225.8,577.9 1231.4,578.2 M943.5,391.1 946.8,389.8 955.8,390.8 958.0,393.1 954.1,397.1 953.5,405.7 950.8,406.3 953.5,409.6 951.9,414.2 953.5,415.5 950.8,420.0 951.3,421.9 M982.6,381.0 988.7,384.4 996.5,385.7 1002.1,387.1 1009.9,387.4 M1034.4,378.3 1031.7,374.8 1031.1,369.3 1031.7,363.8 1026.6,361.7 1031.7,353.3 1035.0,351.9 1038.4,341.9 1028.3,338.2 1025.0,337.9 1019.4,334.6 1016.0,334.6 1009.3,328.8 1006.8,326.5 M1011.6,324.3 1016.6,324.3 1020.5,323.6 1025.5,327.3 1026.1,329.1 1026.1,321.4 1030.5,319.9 1031.9,315.4 1032.8,310.1 M1026.1,329.1 1028.3,332.4 1026.6,333.9 1028.9,336.1 1028.3,338.2 M1041.1,297.8 1045.3,298.6 M1072.4,305.5 1073.0,310.8 1071.3,313.9 1074.1,316.1 1074.6,323.6 1076.3,327.3 1075.2,328.4 1060.1,332.4 1062.3,335.3 1069.6,343.3 1069.6,344.7 1065.1,347.6 1065.1,352.6 1060.7,351.5 1051.2,352.6 1046.2,352.6 1040.6,351.1 1035.0,351.9 M1031.7,363.8 1039.5,360.3 1042.8,364.1 1045.6,361.0 1050.9,357.2 1046.2,352.6 M1050.9,357.2 1060.7,356.1 1061.8,358.2 1069.0,359.6 1068.5,365.9 M1069.0,359.6 1082.4,357.2 1088.0,349.0 1097.5,350.4 1104.2,347.6 1115.9,346.2 1118.4,341.1 M1069.6,344.7 1076.3,341.9 1086.9,344.0 1087.5,348.3 M1075.2,328.4 1083.6,329.9 1086.9,331.7 1091.4,332.4 1097.8,338.2 1087.5,344.7 1087.5,348.3 M1097.8,338.2 1104.8,340.4 1118.4,341.1 1126.5,330.2 1124.3,323.6 1126.0,314.6 1123.7,305.1 1119.8,301.7 1103.1,301.3 M1119.8,301.7 1118.7,297.0 1111.5,294.7 M1123.7,305.1 1135.4,304.0 1136.6,297.8 1141.0,291.6 1132.1,286.9 1110.1,288.8 M1141.0,291.6 1150.0,288.5 1147.2,278.1 1145.2,276.9 1133.8,273.3 1128.5,274.1 M1145.2,276.9 1146.0,266.0 1149.4,261.4 M1147.7,252.3 1154.4,246.8 1168.4,232.1 1160.0,224.2 1159.4,214.3 1157.8,204.3 1154.4,188.3 1152.2,176.8 1154.1,175.3 1160.6,169.4 1164.7,167.9 M1154.1,175.3 1156.1,172.8 1148.8,165.9 1137.7,168.9 1136.6,175.8 1124.8,178.2 1109.8,175.3 1107.3,175.2 1123.7,186.4 1124.3,193.1 1127.4,206.1 M1107.3,175.2 1093.6,180.7 1084.7,190.2 1078.5,202.4 1073.5,210.7 1069.0,217.9 1060.1,226.0 1060.7,242.5 1062.9,248.0 1060.7,256.9 1056.8,264.3 1055.1,265.5 M1150.0,288.5 1165.0,292.4 1164.5,298.6 1173.9,309.3 1167.3,311.6 1170.0,319.1 1182.3,317.6 1191.2,331.7 1204.6,335.3 1216.4,337.5 1214.7,350.4 1205.8,355.4 M1124.3,323.6 1143.3,322.1 1162.8,325.1 1170.0,319.1 M1118.4,341.1 1115.9,346.2 1120.4,349.0 1131.5,351.1 1141.0,347.2 1155.0,349.7 1160.6,360.3 1150.0,366.6 1158.0,368.0 M1141.0,347.2 1149.4,356.8 1150.0,366.6 M1120.4,349.0 1110.9,360.3 1105.9,362.1 1098.1,363.8 1090.2,363.1 1084.7,359.6 1082.4,357.2 M1105.9,362.1 1112.6,368.7 1112.0,371.4 1119.3,373.5 1119.3,375.5 1120.9,378.3 1134.3,379.6 1143.3,376.2 1151.9,378.6 M1119.3,375.5 1117.6,383.7 1117.6,388.4 1120.9,395.1 1129.3,393.8 1138.2,394.8 1139.6,392.4 1146.0,390.4 1148.8,390.4 M1139.6,392.4 1141.0,395.1 1138.0,399.1 M1104.2,405.7 1109.8,398.1 1120.9,395.1 M1100.9,391.4 1107.0,389.1 1107.5,396.4 1109.8,398.1 M1098.1,363.8 1098.6,370.7 1087.5,368.7 1080.8,368.7 1081.9,375.5 1090.2,383.7 1095.8,387.1 M1098.6,370.7 1100.9,380.3 1095.8,386.4 1107.0,389.1 1117.6,388.4 M1068.5,366.6 1078.0,366.6 1080.2,361.7 1084.7,359.6 M951.9,296.7 948.0,300.9 951.9,304.0 957.4,304.0 M1194.3,429.6 1197.4,428.3 1199.1,425.1 1207.4,424.2 1215.8,424.5 1228.9,422.5 1242.6,422.2 1238.1,407.6 1242.6,405.7 1236.4,403.0 1235.9,396.4 1229.8,394.1 1224.4,393.8 M1215.8,381.0 1229.8,382.3 1240.9,385.7 1251.5,391.1 1259.3,395.8 1263.8,391.4 M1235.9,396.4 1243.7,395.1 1251.5,391.1 M1243.7,395.1 1249.3,401.7 1252.1,407.0 1252.1,410.9 M1242.6,405.7 1252.1,410.9 1260.4,405.7 1265.2,414.2 M1242.6,422.2 1249.3,430.9 1245.9,442.2 1249.8,448.5 1259.3,455.9 1258.8,460.9 1263.2,467.0 M1228.9,422.5 1222.5,437.2 1209.1,446.0 1211.3,453.8 1227.0,460.2 1242.0,471.9 1252.1,472.5 1258.8,466.4 1260.4,467.0 M1252.1,472.5 1257.7,476.1 1262.7,475.8 M1209.1,446.0 1197.9,452.8 1192.4,450.3 M1192.9,438.1 1196.8,441.0 1192.6,446.0 1188.5,447.9 M1192.6,446.0 1191.0,452.2 1190.7,457.8 1187.9,469.7 M1183.7,459.0 1187.3,470.0 M1211.3,453.8 1199.1,457.8 1204.6,463.9 1201.8,467.0 1193.5,471.9 1187.9,470.9 M1231.4,547.2 1233.7,541.4 1239.2,541.4 1251.5,542.6 1257.7,543.2 1261.6,536.8 1266.6,534.5 1282.8,532.2 1288.9,545.7 M1282.8,532.2 1299.5,526.4 1303.4,514.8 1300.6,510.7 1286.1,509.2 1280.5,501.8 M1300.6,510.7 1304.0,501.8 1305.1,497.7 1307.0,497.4 M1293.4,420.9 1299.5,416.7 1311.8,415.5 1323.5,420.0 1334.1,425.8 1334.1,432.1 1330.2,442.2 1332.4,457.8 1337.4,458.4 1332.1,467.9 1341.3,470.6 1345.3,483.9 1343.0,487.5 1336.3,495.9 M1332.1,467.9 1362.6,467.6 1363.1,461.5 1379.3,455.3 1380.4,448.5 1383.2,442.2 1389.3,439.7 1392.1,429.6 1410.5,421.9 M1334.1,432.1 1344.1,433.4 1352.5,427.7 1363.7,420.6 1372.0,423.2 1380.4,419.3 1392.1,425.1 1390.5,414.8 1410.5,421.9 M1373.2,504.8 1388.8,500.6 1383.8,491.7 1380.4,485.1 1387.1,479.1 1399.4,473.1 1408.9,460.2 1408.3,449.7 1405.5,437.8 1422.3,435.9 M1263.2,358.9 1252.1,346.2 1255.4,340.4 1253.7,335.3 1263.8,330.2 1276.1,322.1 1285.5,323.6 1297.3,327.3 1315.1,326.5 1325.2,331.0 1335.2,328.8 1327.4,319.9 1334.1,312.4 1333.0,304.8 1356.4,302.5 1377.6,293.9 1388.8,304.0 1402.7,304.8 1421.1,301.7 1439.0,327.3 M1285.3,392.1 1293.9,388.1 1305.0,395.1 1305.1,370.0 1319.6,365.9 1333.5,374.8 1354.7,378.9 1361.4,383.7 1360.9,387.7 1372.6,399.7 1388.2,388.4 1402.7,387.7 1409.4,382.3 1433.4,385.0 M1305.0,395.1 1310.7,395.1 1319.0,385.7 1327.4,389.1 1338.0,396.4 1341.3,403.7 1352.5,410.9 1363.7,420.6 M1372.0,423.2 1370.9,410.3 1379.3,398.4 1388.8,402.4 1403.3,407.0 1404.4,413.5 1410.5,421.9 M1388.2,388.4 1383.2,397.1 1388.8,402.4"/>
<path fill="none" stroke="#0b1525" stroke-width="3" stroke-linejoin="round" d="M712.5,637.5 708.0,642.3 708.6,646.8 710.8,649.8 717.5,649.3 722.0,647.6 724.8,642.8"/>
<circle cx="321.8" cy="354.9" r="30.3" fill="rgba(226,75,75,.55)" stroke="#f05a5a" stroke-width="2.2"/>
<circle cx="315.9" cy="377.5" r="9.8" fill="rgba(104,104,108,.22)" stroke="rgba(128,128,132,.36)" stroke-width="2.2"/>
<circle cx="306.0" cy="419.1" r="8.4" fill="rgba(170,18,24,.62)" stroke="#b3141c" stroke-width="2.2"/>
<circle cx="329.7" cy="442.6" r="8.4" fill="rgba(104,104,108,.22)" stroke="rgba(128,128,132,.36)" stroke-width="2.2"/>
<circle cx="364.0" cy="446.3" r="8.6" fill="rgba(226,75,75,.55)" stroke="#f05a5a" stroke-width="2.2"/>
<circle cx="455.6" cy="396.2" r="8.4" fill="rgba(226,75,75,.55)" stroke="#f05a5a" stroke-width="2.2"/>
<circle cx="468.2" cy="393.8" r="8.4" fill="rgba(226,75,75,.55)" stroke="#f05a5a" stroke-width="2.2"/>
<circle cx="502.0" cy="391.8" r="8.4" fill="rgba(226,75,75,.55)" stroke="#f05a5a" stroke-width="2.2"/>
<circle cx="547.7" cy="379.7" r="8.6" fill="rgba(226,75,75,.55)" stroke="#f05a5a" stroke-width="2.2"/>
<circle cx="580.0" cy="367.0" r="8.4" fill="rgba(104,104,108,.22)" stroke="rgba(128,128,132,.36)" stroke-width="2.2"/>
<circle cx="529.7" cy="403.0" r="8.4" fill="rgba(170,18,24,.62)" stroke="#b3141c" stroke-width="2.2"/>
<circle cx="552.1" cy="423.2" r="22.4" fill="rgba(170,18,24,.62)" stroke="#b3141c" stroke-width="2.2"/>
<circle cx="546.0" cy="421.5" r="8.4" fill="rgba(170,18,24,.62)" stroke="#b3141c" stroke-width="2.2"/>
<circle cx="544.0" cy="448.1" r="8.4" fill="rgba(226,75,75,.55)" stroke="#f05a5a" stroke-width="2.2"/>
<circle cx="1087.8" cy="251.4" r="8.4" fill="rgba(226,75,75,.55)" stroke="#f05a5a" stroke-width="2.2"/>
<circle cx="1092.0" cy="262.7" r="8.4" fill="rgba(104,104,108,.22)" stroke="rgba(128,128,132,.36)" stroke-width="2.2"/>
<circle cx="955.8" cy="310.7" r="8.4" fill="rgba(104,104,108,.22)" stroke="rgba(128,128,132,.36)" stroke-width="2.2"/>
<circle cx="989.9" cy="324.1" r="8.4" fill="rgba(104,104,108,.22)" stroke="rgba(128,128,132,.36)" stroke-width="2.2"/>
<circle cx="1019.8" cy="317.6" r="8.4" fill="rgba(170,18,24,.62)" stroke="#b3141c" stroke-width="2.2"/>
<circle cx="1039.9" cy="334.2" r="8.4" fill="rgba(170,18,24,.62)" stroke="#b3141c" stroke-width="2.2"/>
<circle cx="1039.9" cy="354.2" r="8.4" fill="rgba(170,18,24,.62)" stroke="#b3141c" stroke-width="2.2"/>
<circle cx="1004.0" cy="361.1" r="8.4" fill="rgba(226,75,75,.55)" stroke="#f05a5a" stroke-width="2.2"/>
<circle cx="1186.0" cy="458.0" r="8.4" fill="rgba(170,18,24,.62)" stroke="#b3141c" stroke-width="2.2"/>
<circle cx="1400.0" cy="531.5" r="8.4" fill="rgba(170,18,24,.62)" stroke="#b3141c" stroke-width="2.2"/>
</svg>
<div class="b" style="left:1287.0px;top:1029.5px;width:55.6px;height:112.4px;background:#f7f7f7;border-radius:1px 4px 4px 1px;box-shadow:0 1px 2px rgba(0,0,0,.35);"></div>
<div class="b" style="left:1287.0px;top:1084.0px;width:55.6px;height:1.6px;background:#cdcdcd;"></div>
<div class="b" style="left:2720px;top:1070px;width:600.5px;height:804px;background:#151515;border:2px solid #3c3c3c;border-bottom:none;border-radius:16px 16px 0 0;"></div>
<div class="b" style="left:2722.0px;top:1185.4px;width:596.5px;height:2.0px;background:#3c3c3c;"></div>
<svg class="b" style="left:2953.0px;top:1123.5px;" width="15.0" height="10.0" viewBox="0 0 15 10"><polyline points="1.4,1.6 7.5,7.8 13.6,1.6" fill="none" stroke="#a8a8a8" stroke-width="2.2"/></svg>
<div class="b" style="left:2762.7px;top:1207.6px;width:305.7px;height:46.8px;background:#151515;border-radius:5px;border:2px solid #505050;"></div>
<div class="b" style="left:2768.2px;top:1213.0px;width:7.7px;height:36.0px;background:#2b5249;"></div>
<div class="b" style="left:2993.9px;top:1213.0px;width:1.6px;height:36.0px;background:#5a5a5a;"></div>
<div class="b" style="left:2762.7px;top:1295.6px;width:255.0px;height:46.8px;background:#151515;border-radius:5px;border:2px solid #505050;"></div>
<div class="b" style="left:2768.2px;top:1301.0px;width:7.7px;height:36.0px;background:#1f4274;"></div>
<div class="b" style="left:2944.8px;top:1301.0px;width:1.6px;height:36.0px;background:#5a5a5a;"></div>
<div class="b" style="left:2762.7px;top:1383.6px;width:264.0px;height:46.8px;background:#151515;border-radius:5px;border:2px solid #505050;"></div>
<div class="b" style="left:2768.2px;top:1389.0px;width:7.7px;height:36.0px;background:#1f4274;"></div>
<div class="b" style="left:2954.9px;top:1389.0px;width:1.6px;height:36.0px;background:#5a5a5a;"></div>
<div class="b" style="left:2762.7px;top:1471.6px;width:263.0px;height:46.8px;background:#151515;border-radius:5px;border:2px solid #505050;"></div>
<div class="b" style="left:2768.2px;top:1477.0px;width:7.7px;height:36.0px;background:#2b5249;"></div>
<div class="b" style="left:2953.9px;top:1477.0px;width:1.6px;height:36.0px;background:#5a5a5a;"></div>
<div class="b" style="left:2762.7px;top:1559.6px;width:232.0px;height:46.8px;background:#151515;border-radius:5px;border:2px solid #505050;"></div>
<div class="b" style="left:2768.2px;top:1565.0px;width:7.7px;height:36.0px;background:#235e50;"></div>
<div class="b" style="left:2923.8px;top:1565.0px;width:1.6px;height:36.0px;background:#5a5a5a;"></div>
<div class="b" style="left:2762.7px;top:1647.6px;width:250.7px;height:46.8px;background:#151515;border-radius:5px;border:2px solid #505050;"></div>
<div class="b" style="left:2768.2px;top:1653.0px;width:7.7px;height:36.0px;background:#401f5e;"></div>
<div class="b" style="left:2941.4px;top:1653.0px;width:1.6px;height:36.0px;background:#5a5a5a;"></div>
<div class="b" style="left:2762.7px;top:1735.6px;width:238.7px;height:46.8px;background:#151515;border-radius:5px;border:2px solid #505050;"></div>
<div class="b" style="left:2768.2px;top:1741.0px;width:7.7px;height:36.0px;background:#1f4274;"></div>
<div class="b" style="left:2929.6px;top:1741.0px;width:1.6px;height:36.0px;background:#5a5a5a;"></div>
<div class="b" style="left:2762.7px;top:1823.6px;width:205.8px;height:46.8px;background:#151515;border-radius:5px;border:2px solid #505050;"></div>
<div class="b" style="left:2768.2px;top:1829.0px;width:7.7px;height:36.0px;background:#285047;"></div>
<div class="b" style="left:2895.8px;top:1829.0px;width:1.6px;height:36.0px;background:#5a5a5a;"></div>
<div class="b" style="left:3311.0px;top:1839.0px;width:68.4px;height:68.4px;background:#131a1f;border-radius:16px;border:4.5px solid #3cc3a2;z-index:6;"></div>
<div class="t" style="left:34.6px;top:1905.5px;font-size:21px;color:#d6e0f6;font-weight:700;transform:scaleX(1.1048);transform-origin:0 0;">CQ</div>
<div class="t" style="left:171.0px;top:58.0px;font-size:24.6px;color:#5e6b85;letter-spacing:-0.62px;">Dashboards &amp; Reports</div>
<div class="t" style="left:457.8px;top:58.0px;font-size:24.6px;color:#9aa6bc;letter-spacing:-0.81px;">Dashboard</div>
<div class="t" style="left:187.8px;top:123.6px;font-size:42.6px;color:#cbd7f0;letter-spacing:0.11px;-webkit-text-stroke:0.9px #0b1525;">Data Security</div>
<div class="t" style="left:3058.8px;top:106.7px;font-size:26.6px;color:#8f949c;font-style:italic;letter-spacing:0.31px;">Data is up to date</div>
<div class="t" style="left:176.0px;top:227.8px;font-size:85.8px;color:#f3f3f3;font-weight:700;letter-spacing:-1.99px;-webkit-text-stroke:1.6px #f3f3f3;">23.7K</div>
<div class="t" style="left:431.5px;top:238.2px;font-size:27.8px;color:#f5f5f5;font-weight:700;letter-spacing:-0.99px;">Assets Discovered</div>
<div class="t" style="left:431.5px;top:282.3px;font-size:24.2px;color:#8c9199;letter-spacing:-0.18px;">54 Data Store Services</div>
<div class="t" style="left:806.8px;top:254.3px;font-size:34.2px;color:#f2f2f2;font-weight:700;transform:scaleX(1.0040);transform-origin:0 0;">8.9K</div>
<div class="t" style="left:889.0px;top:258.4px;font-size:29.4px;color:#bdc0c7;letter-spacing:-1.16px;">Assets</div>
<div class="t" style="left:751.3px;top:254.5px;font-size:18.6px;color:#f2f2f2;transform:scaleX(0.8166);transform-origin:0 0;-webkit-text-stroke:0.5px #f2f2f2;">aws</div>
<div class="t" style="left:1102.0px;top:254.3px;font-size:34.2px;color:#f2f2f2;font-weight:700;transform:scaleX(0.9940);transform-origin:0 0;">374</div>
<div class="t" style="left:1169.3px;top:258.4px;font-size:29.4px;color:#bdc0c7;letter-spacing:-1.16px;">Assets</div>
<div class="t" style="left:1382.2px;top:254.3px;font-size:34.2px;color:#f2f2f2;font-weight:700;transform:scaleX(1.0554);transform-origin:0 0;">644</div>
<div class="t" style="left:1452.9px;top:258.4px;font-size:29.4px;color:#bdc0c7;letter-spacing:-1.16px;">Assets</div>
<div class="t" style="left:1665.0px;top:254.3px;font-size:34.2px;color:#f2f2f2;font-weight:700;transform:scaleX(1.0133);transform-origin:0 0;">729</div>
<div class="t" style="left:1732.6px;top:258.4px;font-size:29.4px;color:#bdc0c7;letter-spacing:-1.16px;">Assets</div>
<div class="t" style="left:1946.3px;top:254.3px;font-size:34.2px;color:#f2f2f2;font-weight:700;transform:scaleX(0.8642);transform-origin:0 0;">13K</div>
<div class="t" style="left:2010.0px;top:258.4px;font-size:29.4px;color:#bdc0c7;letter-spacing:-1.16px;">Assets</div>
<div class="t" style="left:2222.9px;top:254.3px;font-size:34.2px;color:#f2f2f2;font-weight:700;transform:scaleX(0.8678);transform-origin:0 0;">2</div>
<div class="t" style="left:2250.6px;top:258.4px;font-size:29.4px;color:#bdc0c7;letter-spacing:-1.16px;">Assets</div>
<div class="t" style="left:427.8px;top:657.9px;font-size:60.3px;color:#eff1fb;font-weight:700;transform:scaleX(0.8133);transform-origin:0 0;">15,781</div>
<div class="t" style="left:400.3px;top:742.9px;font-size:29.2px;color:#d6def1;letter-spacing:-0.66px;">Storage Buckets</div>
<div class="t" style="left:1088.8px;top:657.9px;font-size:60.3px;color:#eff1fb;font-weight:700;transform:scaleX(0.8449);transform-origin:0 0;">185</div>
<div class="t" style="left:1099.4px;top:742.9px;font-size:29.2px;color:#d6def1;letter-spacing:-1.91px;">Disks</div>
<div class="t" style="left:1691.4px;top:657.9px;font-size:60.3px;color:#eff1fb;font-weight:700;transform:scaleX(0.9060);transform-origin:0 0;">6,325</div>
<div class="t" style="left:1707.8px;top:742.9px;font-size:29.2px;color:#d6def1;letter-spacing:-1.36px;">Backups</div>
<div class="t" style="left:2343.4px;top:657.9px;font-size:60.3px;color:#eff1fb;font-weight:700;transform:scaleX(0.8916);transform-origin:0 0;">527</div>
<div class="t" style="left:2323.7px;top:742.9px;font-size:29.2px;color:#d6def1;letter-spacing:-1.29px;">Databases</div>
<div class="t" style="left:2983.7px;top:657.9px;font-size:60.3px;color:#eff1fb;font-weight:700;transform:scaleX(1.0020);transform-origin:0 0;">40</div>
<div class="t" style="left:2946.2px;top:742.9px;font-size:29.2px;color:#d6def1;letter-spacing:-0.89px;">AI Datasets</div>
<div class="t" style="left:283.7px;top:1119.2px;font-size:23.5px;color:#ffffff;font-weight:700;">C</div>
<div class="t" style="left:240.7px;top:1182.8px;font-size:31.2px;color:#f3f3f3;font-weight:700;letter-spacing:-0.40px;">Top Data Security Issues to Address</div>
<div class="t" style="left:240.7px;top:1244.7px;font-size:24px;color:#a3a6ad;letter-spacing:0.09px;">Remediate the most pressing issues to improve your data security posture</div>
<div class="t" style="left:244.5px;top:1375.5px;font-size:24.4px;color:#f4f4f4;letter-spacing:0.17px;-webkit-text-stroke:0.45px #f4f4f4;">Sensitive EBS Volume 'vol-0479e750699840c04' with stale ba...</div>
<div class="t" style="left:244.5px;top:1411.3px;font-size:24.2px;color:#8f8f8f;letter-spacing:-0.02px;-webkit-text-stroke:0.3px #8f8f8f;">First Discovered on Feb 24, 2026, 10:42 AM</div>
<div class="t" style="left:1023.3px;top:1395.6px;font-size:20.5px;color:#ffffff;font-weight:700;">H</div>
<div class="t" style="left:1064.4px;top:1391.8px;font-size:28px;color:#f2f2f2;transform:scaleX(0.8611);transform-origin:0 0;-webkit-text-stroke:0.6px #f2f2f2;">1.2K</div>
<div class="t" style="left:244.5px;top:1523.5px;font-size:24.4px;color:#f4f4f4;letter-spacing:0.12px;-webkit-text-stroke:0.45px #f4f4f4;">Sensitive EBS Volume 'vol-0c59a8ddb090e6c83' with stale ba...</div>
<div class="t" style="left:244.5px;top:1559.3px;font-size:24.2px;color:#8f8f8f;letter-spacing:-0.02px;-webkit-text-stroke:0.3px #8f8f8f;">First Discovered on Feb 24, 2026, 10:42 AM</div>
<div class="t" style="left:1026.6px;top:1543.6px;font-size:20.5px;color:#ffffff;font-weight:700;">H</div>
<div class="t" style="left:1066.9px;top:1539.8px;font-size:28px;color:#f2f2f2;transform:scaleX(1.0082);transform-origin:0 0;-webkit-text-stroke:0.6px #f2f2f2;">685</div>
<div class="t" style="left:244.5px;top:1671.5px;font-size:24.4px;color:#f4f4f4;letter-spacing:0.06px;-webkit-text-stroke:0.45px #f4f4f4;">Sensitive EBS Volume 'vol-0bae72c33f93f67d6' with stale back...</div>
<div class="t" style="left:244.5px;top:1707.3px;font-size:24.2px;color:#8f8f8f;letter-spacing:-0.02px;-webkit-text-stroke:0.3px #8f8f8f;">First Discovered on Feb 24, 2026, 10:42 AM</div>
<div class="t" style="left:1027.5px;top:1691.6px;font-size:20.5px;color:#ffffff;font-weight:700;">H</div>
<div class="t" style="left:1068.0px;top:1687.8px;font-size:28px;color:#f2f2f2;transform:scaleX(0.9847);transform-origin:0 0;-webkit-text-stroke:0.6px #f2f2f2;">623</div>
<div class="t" style="left:244.5px;top:1819.5px;font-size:24.4px;color:#f4f4f4;letter-spacing:-0.05px;-webkit-text-stroke:0.45px #f4f4f4;">Sensitive EBS Volume 'vol-0bebf5377761adb1f' with stale back...</div>
<div class="t" style="left:244.5px;top:1855.3px;font-size:24.2px;color:#8f8f8f;letter-spacing:-0.02px;-webkit-text-stroke:0.3px #8f8f8f;">First Discovered on Feb 24, 2026, 10:42 AM</div>
<div class="t" style="left:1024.5px;top:1839.6px;font-size:20.5px;color:#ffffff;font-weight:700;">H</div>
<div class="t" style="left:1064.5px;top:1835.8px;font-size:28px;color:#f2f2f2;transform:scaleX(1.0596);transform-origin:0 0;-webkit-text-stroke:0.6px #f2f2f2;">504</div>
<div class="t" style="left:1306.7px;top:1043.8px;font-size:28px;color:#333333;font-weight:700;">+</div>
<div class="t" style="left:1310.5px;top:1100.0px;font-size:28px;color:#333333;font-weight:700;">-</div>
<div class="t" style="left:2763.3px;top:1112.2px;font-size:27.8px;color:#f0f0f0;font-style:italic;letter-spacing:0.48px;">Data Patterns</div>
<div class="t" style="left:2785.0px;top:1219.0px;font-size:24px;color:#f4f4f4;letter-spacing:-0.26px;">Internal IP Address</div>
<div class="t" style="left:3003.9px;top:1219.0px;font-size:24px;color:#c2c2c2;">4.5M</div>
<div class="t" style="left:2785.0px;top:1307.0px;font-size:24px;color:#f4f4f4;letter-spacing:-0.36px;">Email Address</div>
<div class="t" style="left:2954.8px;top:1307.0px;font-size:24px;color:#c2c2c2;">3.8M</div>
<div class="t" style="left:2785.0px;top:1395.0px;font-size:24px;color:#f4f4f4;letter-spacing:-0.08px;">Phone Number</div>
<div class="t" style="left:2964.9px;top:1395.0px;font-size:24px;color:#c2c2c2;">3.7M</div>
<div class="t" style="left:2785.0px;top:1483.0px;font-size:24px;color:#f4f4f4;letter-spacing:0.06px;">Street Address</div>
<div class="t" style="left:2963.9px;top:1483.0px;font-size:24px;color:#c2c2c2;">3.7M</div>
<div class="t" style="left:2785.0px;top:1571.0px;font-size:24px;color:#f4f4f4;letter-spacing:0.36px;">Test pattern</div>
<div class="t" style="left:2933.8px;top:1571.0px;font-size:24px;color:#c2c2c2;">3.7M</div>
<div class="t" style="left:2785.0px;top:1659.0px;font-size:24px;color:#f4f4f4;letter-spacing:-0.09px;">IBAN (Global)</div>
<div class="t" style="left:2951.4px;top:1659.0px;font-size:24px;color:#c2c2c2;">3.6M</div>
<div class="t" style="left:2785.0px;top:1747.0px;font-size:24px;color:#f4f4f4;letter-spacing:0.15px;">Date of Birth</div>
<div class="t" style="left:2939.6px;top:1747.0px;font-size:24px;color:#c2c2c2;">3.6M</div>
<div class="t" style="left:2785.0px;top:1835.0px;font-size:24px;color:#f4f4f4;letter-spacing:-0.57px;">Password</div>
<div class="t" style="left:2905.8px;top:1835.0px;font-size:24px;color:#c2c2c2;">3.6M</div>
<div class="t" style="left:3331.8px;top:1853.0px;font-size:44px;color:#2ebd98;font-weight:700;z-index:7;">?</div>
</body></html>
